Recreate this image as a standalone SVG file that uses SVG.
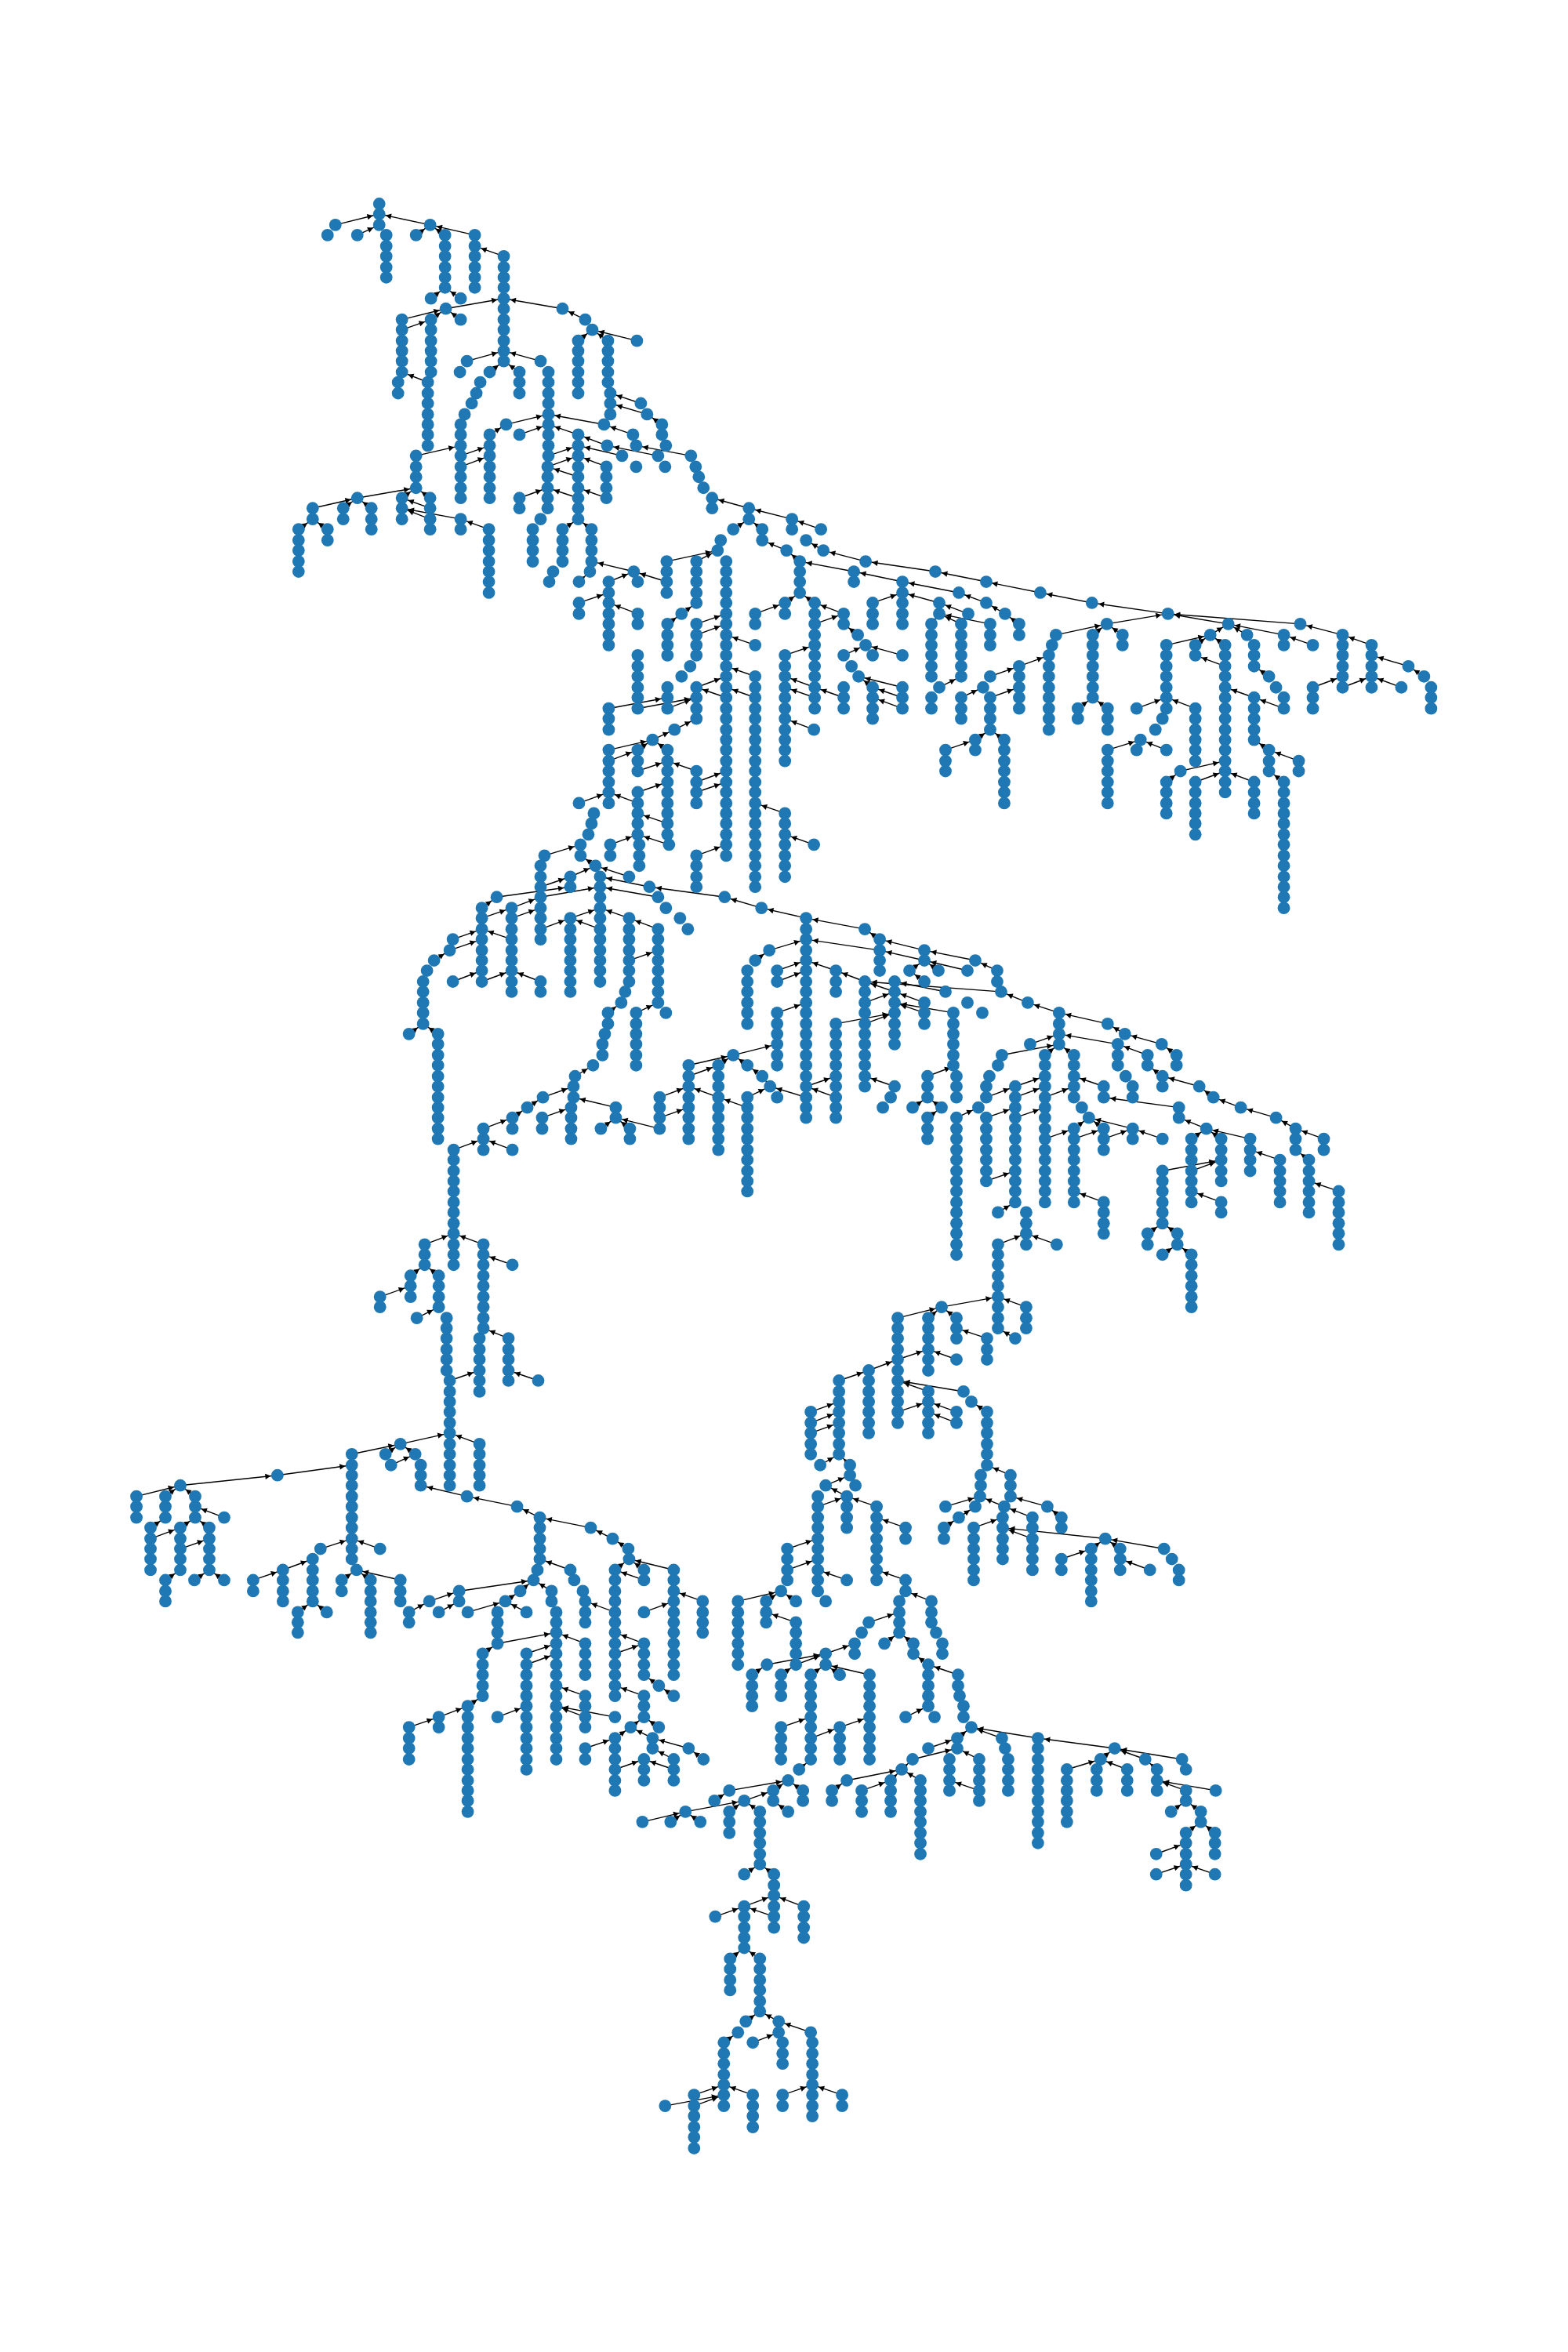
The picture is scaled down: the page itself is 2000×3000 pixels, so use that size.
<svg xmlns="http://www.w3.org/2000/svg" width="2000" height="3000" viewBox="0 0 2000 3000">
<style>
#bg{fill:#fff}
#edges path{stroke:#000;stroke-width:1.4;fill:none;marker-end:url(#a)}
#nodes circle{fill:#1f78b4;r:7.9px}
</style>
<defs><marker id="a" markerUnits="userSpaceOnUse" markerWidth="20" markerHeight="10" orient="auto" overflow="visible"><path d="M-8.5 0L-15.5 -3.7V3.7z" fill="#000"/></marker></defs>
<rect id="bg" width="2000" height="3000"/>
<g id="edges" transform="translate(.2 .5) scale(.999 .998)">
<path d="M777 905L852 891"/><path d="M814 905L889 891"/><path d="M852 905L889 891"/><path d="M1180 1214L1123 1200"/><path d="M1180 1227L1123 1214"/><path d="M1029 1173L972 1160"/>
<path d="M428 287L484 273"/><path d="M456 300L484 287"/><path d="M549 287L484 273"/><path d="M531 300L549 287"/><path d="M568 300L549 287"/><path d="M606 300L549 287"/><path d="M643 327L606 314"/><path d="M550 381L568 367"/><path d="M588 381L568 367"/><path d="M569 394L643 381"/><path d="M718 394L643 381"/><path d="M747 408L718 394"/><path d="M813 435L756 421"/><path d="M738 435L756 421"/><path d="M776 435L756 421"/><path d="M513 408L569 394"/><path d="M550 408L569 394"/><path d="M588 408L569 394"/><path d="M513 421L550 408"/><path d="M546 488L513 475"/><path d="M596 461L643 448"/><path d="M690 461L643 448"/><path d="M625 475L643 461"/><path d="M663 475L643 461"/><path d="M818 515L779 502"/><path d="M826 529L779 515"/><path d="M845 542L826 529"/><path d="M771 542L700 529"/><path d="M808 555L771 542"/><path d="M646 542L700 529"/><path d="M625 555L646 542"/><path d="M663 555L700 542"/><path d="M588 582L625 569"/><path d="M588 596L625 582"/><path d="M531 582L588 569"/><path d="M738 555L700 542"/><path d="M775 569L738 555"/><path d="M794 582L738 569"/><path d="M840 582L775 569"/><path d="M882 582L812 569"/><path d="M700 582L738 569"/><path d="M699 596L738 582"/><path d="M738 609L699 596"/><path d="M774 596L738 582"/><path d="M738 636L699 623"/><path d="M774 636L738 623"/><path d="M663 636L699 623"/><path d="M456 636L531 623"/><path d="M399 649L456 636"/><path d="M438 649L456 636"/><path d="M474 649L456 636"/><path d="M381 676L399 663"/><path d="M418 676L399 663"/><path d="M513 636L531 623"/><path d="M549 636L531 623"/><path d="M549 649L513 636"/><path d="M549 663L513 649"/><path d="M588 663L513 649"/><path d="M624 676L588 663"/><path d="M718 676L738 663"/><path d="M755 676L738 663"/><path d="M739 743L753 730"/><path d="M809 730L755 717"/><path d="M851 717L916 703"/><path d="M851 743L809 730"/><path d="M889 717L916 703"/><path d="M777 743L809 730"/><path d="M739 770L777 757"/><path d="M814 784L777 770"/><path d="M870 784L889 770"/>
<path d="M956 649L909 636"/><path d="M936 676L956 663"/><path d="M973 676L956 663"/><path d="M1011 663L956 649"/><path d="M1048 676L1011 663"/><path d="M1051 703L1029 690"/><path d="M1105 717L1051 703"/><path d="M1004 703L973 690"/><path d="M1021 717L1004 703"/><path d="M1090 730L1021 717"/><path d="M1194 730L1105 717"/><path d="M1259 743L1194 730"/><path d="M1328 757L1258 743"/><path d="M1394 770L1328 757"/><path d="M1491 784L1394 770"/><path d="M1152 743L1090 730"/><path d="M1224 757L1152 743"/><path d="M1259 770L1224 757"/><path d="M1283 784L1259 770"/><path d="M1301 797L1283 784"/><path d="M1199 770L1152 757"/><path d="M1236 784L1199 770"/><path d="M1227 797L1199 784"/><path d="M1264 797L1199 784"/><path d="M1189 797L1199 784"/><path d="M1114 770L1152 757"/><path d="M1040 770L1021 757"/><path d="M1002 770L1021 757"/><path d="M964 784L1002 770"/><path d="M1077 784L1040 770"/><path d="M1040 797L1077 784"/><path d="M1095 811L1077 797"/><path d="M1152 837L1105 824"/><path d="M1077 837L1105 824"/><path d="M1152 878L1096 864"/><path d="M1114 878L1096 864"/><path d="M1152 891L1114 878"/><path d="M1152 905L1114 891"/><path d="M1077 891L1040 878"/><path d="M1002 837L1040 824"/><path d="M1040 878L1002 864"/><path d="M1040 891L1002 878"/><path d="M1039 932L1002 918"/><path d="M964 824L927 811"/><path d="M964 864L927 851"/><path d="M964 891L927 878"/><path d="M889 797L927 784"/><path d="M889 811L927 797"/><path d="M889 878L927 864"/><path d="M927 891L889 878"/><path d="M861 932L889 918"/><path d="M833 945L861 932"/><path d="M814 958L833 945"/><path d="M777 958L833 945"/><path d="M852 958L833 945"/><path d="M814 985L852 972"/><path d="M777 972L814 958"/><path d="M889 985L852 972"/><path d="M889 999L927 985"/><path d="M889 1012L927 999"/><path d="M814 1012L852 999"/><path d="M814 1026L777 1012"/><path d="M739 1026L777 1012"/><path d="M852 1052L814 1039"/><path d="M854 1079L814 1066"/><path d="M779 1079L814 1066"/><path d="M889 1093L927 1079"/><path d="M1002 1039L964 1026"/><path d="M1039 1079L1002 1066"/><path d="M728 1120L760 1106"/><path d="M803 1120L760 1106"/><path d="M760 1106L741 1093"/><path d="M829 1133L766 1120"/><path d="M840 1146L766 1133"/><path d="M972 1160L925 1146"/><path d="M925 1146L829 1133"/><path d="M695 1093L741 1079"/><path d="M690 1133L728 1120"/><path d="M634 1146L728 1133"/><path d="M690 1146L766 1133"/>
<path d="M615 1160L634 1146"/><path d="M615 1173L653 1160"/><path d="M653 1173L690 1160"/><path d="M653 1160L690 1146"/><path d="M653 1200L615 1187"/><path d="M578 1200L615 1187"/><path d="M574 1214L615 1200"/><path d="M554 1227L574 1214"/><path d="M578 1254L615 1240"/><path d="M615 1254L653 1240"/><path d="M690 1254L653 1240"/><path d="M690 1187L728 1173"/><path d="M766 1187L728 1173"/><path d="M728 1173L766 1160"/><path d="M803 1173L766 1160"/><path d="M840 1187L803 1173"/><path d="M803 1227L840 1214"/><path d="M522 1321L540 1308"/><path d="M559 1321L540 1308"/><path d="M812 1294L840 1281"/><path d="M776 1294L793 1281"/><path d="M734 1375L757 1361"/><path d="M693 1402L732 1388"/><path d="M673 1415L693 1402"/><path d="M654 1428L673 1415"/><path d="M617 1442L654 1428"/><path d="M692 1428L729 1415"/><path d="M654 1469L617 1455"/><path d="M579 1469L617 1455"/><path d="M786 1415L732 1402"/><path d="M767 1442L786 1428"/><path d="M804 1442L786 1428"/><path d="M842 1442L786 1428"/><path d="M842 1402L879 1388"/><path d="M842 1428L879 1415"/><path d="M879 1361L936 1348"/><path d="M917 1361L936 1348"/><path d="M954 1361L936 1348"/><path d="M879 1375L917 1361"/><path d="M917 1402L879 1388"/><path d="M954 1415L917 1402"/><path d="M954 1402L983 1388"/><path d="M1029 1402L983 1388"/><path d="M936 1348L992 1334"/><path d="M973 1375L954 1361"/><path d="M983 1388L973 1375"/><path d="M992 1240L1029 1227"/><path d="M992 1254L1029 1240"/><path d="M992 1294L1029 1281"/><path d="M964 1227L982 1214"/><path d="M982 1214L1029 1200"/><path d="M1067 1240L1029 1227"/><path d="M1104 1254L1067 1240"/><path d="M1104 1187L1029 1173"/><path d="M1123 1200L1104 1187"/><path d="M1123 1214L1029 1200"/><path d="M1161 1240L1180 1227"/><path d="M1198 1240L1180 1227"/><path d="M1245 1227L1180 1214"/><path d="M1235 1240L1180 1227"/><path d="M1273 1240L1245 1227"/><path d="M1180 1254L1161 1240"/><path d="M1207 1267L1142 1254"/><path d="M1278 1267L1104 1254"/><path d="M1180 1281L1142 1267"/><path d="M1142 1267L1104 1254"/><path d="M1104 1281L1142 1267"/><path d="M1217 1294L1142 1281"/><path d="M1180 1294L1142 1281"/><path d="M1067 1308L1142 1294"/><path d="M1104 1308L1142 1294"/><path d="M1142 1388L1104 1375"/><path d="M1165 1415L1184 1402"/><path d="M1202 1415L1184 1402"/><path d="M1184 1428L1202 1415"/><path d="M1184 1375L1221 1361"/><path d="M1221 1428L1249 1415"/><path d="M1259 1402L1296 1388"/><path d="M1259 1428L1296 1415"/><path d="M1259 1509L1296 1496"/><path d="M1279 1348L1352 1334"/><path d="M1315 1334L1352 1321"/><path d="M1334 1348L1352 1334"/><path d="M1371 1348L1352 1334"/><path d="M1296 1388L1334 1375"/><path d="M1296 1402L1334 1388"/><path d="M1296 1428L1334 1415"/><path d="M1334 1402L1371 1388"/><path d="M1409 1388L1371 1375"/><path d="M1334 1455L1371 1442"/><path d="M1371 1455L1409 1442"/><path d="M1409 1455L1446 1442"/><path d="M1484 1455L1446 1442"/><path d="M1446 1442L1390 1428"/><path d="M1409 1442L1390 1428"/><path d="M1371 1442L1390 1428"/><path d="M1409 1536L1371 1522"/><path d="M1274 1549L1296 1536"/><path d="M1274 1590L1310 1576"/><path d="M1349 1590L1310 1576"/><path d="M1352 1294L1312 1281"/><path d="M1312 1281L1278 1267"/><path d="M1414 1308L1352 1294"/><path d="M1436 1321L1414 1308"/><path d="M1483 1334L1436 1321"/><path d="M1502 1348L1483 1334"/><path d="M1427 1334L1352 1321"/><path d="M1465 1348L1427 1334"/><path d="M1484 1375L1465 1361"/><path d="M1531 1388L1484 1375"/><path d="M1549 1402L1531 1388"/><path d="M1584 1415L1549 1402"/><path d="M1629 1428L1584 1415"/><path d="M1654 1442L1629 1428"/><path d="M1690 1455L1654 1442"/><path d="M1505 1415L1409 1402"/><path d="M1540 1442L1505 1428"/><path d="M1521 1455L1540 1442"/><path d="M1559 1455L1540 1442"/><path d="M1596 1455L1540 1442"/><path d="M1634 1482L1596 1469"/><path d="M1671 1482L1654 1469"/><path d="M1709 1522L1671 1509"/><path d="M1484 1496L1559 1482"/><path d="M1521 1496L1559 1482"/><path d="M1559 1536L1521 1522"/><path d="M1465 1576L1484 1563"/><path d="M1503 1576L1484 1563"/><path d="M1484 1603L1503 1590"/><path d="M1521 1603L1503 1590"/>
<path d="M1413 797L1491 784"/><path d="M1348 811L1413 797"/><path d="M1395 811L1413 797"/><path d="M1433 811L1413 797"/><path d="M1301 851L1339 837"/><path d="M1264 864L1301 851"/><path d="M1264 891L1301 878"/><path d="M1376 905L1395 891"/><path d="M1414 905L1395 891"/><path d="M1414 958L1456 945"/><path d="M1489 958L1456 945"/><path d="M1451 905L1489 891"/><path d="M1526 905L1489 891"/><path d="M1489 824L1545 811"/><path d="M1526 824L1545 811"/><path d="M1564 824L1545 811"/><path d="M1545 811L1568 797"/><path d="M1592 811L1568 797"/><path d="M1639 811L1568 797"/><path d="M1676 824L1639 811"/><path d="M1564 851L1526 837"/><path d="M1620 864L1601 851"/><path d="M1639 905L1601 891"/><path d="M1601 891L1564 878"/><path d="M1620 958L1601 945"/><path d="M1658 972L1620 958"/><path d="M1639 999L1620 985"/><path d="M1507 985L1564 972"/><path d="M1489 999L1507 985"/><path d="M1526 999L1564 985"/><path d="M1601 999L1564 985"/><path d="M1660 797L1491 784"/><path d="M1568 797L1491 784"/><path d="M1714 811L1660 797"/><path d="M1751 824L1714 811"/><path d="M1798 851L1751 837"/><path d="M1818 864L1798 851"/><path d="M1789 878L1751 864"/><path d="M1714 878L1751 864"/><path d="M1676 878L1714 864"/>
<path d="M1199 878L1227 864"/><path d="M1227 891L1255 878"/><path d="M1207 958L1245 945"/><path d="M1245 945L1264 932"/><path d="M1282 945L1264 932"/><path d="M852 797L870 784"/><path d="M1067 1402L1029 1388"/><path d="M1029 1388L1067 1375"/>
<path d="M230 1898L354 1885"/><path d="M354 1885L449 1872"/><path d="M449 1858L511 1845"/><path d="M511 1845L574 1831"/><path d="M492 1858L511 1845"/><path d="M530 1858L511 1845"/><path d="M499 1872L530 1858"/><path d="M612 1845L574 1831"/><path d="M596 1912L537 1898"/><path d="M660 1925L596 1912"/><path d="M689 1939L660 1925"/><path d="M754 1952L689 1939"/><path d="M782 1966L754 1952"/><path d="M802 1979L782 1966"/><path d="M728 2006L689 1992"/><path d="M785 2006L803 1992"/><path d="M822 2006L803 1992"/><path d="M860 2006L803 1992"/><path d="M822 2019L785 2006"/><path d="M897 2046L860 2033"/><path d="M822 2060L860 2046"/><path d="M785 2060L747 2046"/><path d="M747 2100L710 2086"/><path d="M822 2100L785 2086"/><path d="M785 2113L822 2100"/><path d="M942 2046L997 2033"/><path d="M978 2046L997 2033"/><path d="M1016 2046L997 2033"/><path d="M1016 2073L978 2060"/><path d="M635 2100L710 2086"/><path d="M616 2113L635 2100"/><path d="M672 2113L710 2100"/><path d="M672 2127L710 2113"/><path d="M747 2167L710 2154"/><path d="M747 2194L710 2180"/><path d="M785 2194L710 2180"/><path d="M597 2180L616 2167"/><path d="M560 2194L597 2180"/><path d="M522 2207L560 2194"/><path d="M635 2194L672 2180"/><path d="M822 2167L785 2154"/><path d="M841 2154L822 2140"/><path d="M860 2167L841 2154"/><path d="M747 2234L785 2221"/><path d="M785 2221L805 2207"/><path d="M805 2207L822 2194"/><path d="M841 2207L822 2194"/><path d="M833 2221L805 2207"/><path d="M879 2234L833 2221"/><path d="M898 2248L879 2234"/><path d="M860 2248L833 2234"/><path d="M860 2261L822 2248"/><path d="M785 2261L822 2248"/><path d="M1020 2261L1035 2248"/><path d="M931 2288L1006 2275"/><path d="M912 2301L931 2288"/><path d="M950 2301L987 2288"/><path d="M987 2288L1006 2275"/><path d="M1025 2288L1006 2275"/><path d="M1006 2315L987 2301"/><path d="M875 2315L950 2301"/><path d="M970 2315L950 2301"/><path d="M931 2315L950 2301"/><path d="M820 2328L875 2315"/><path d="M856 2328L875 2315"/><path d="M894 2328L875 2315"/><path d="M950 2395L970 2382"/><path d="M988 2395L970 2382"/><path d="M950 2436L988 2422"/><path d="M913 2449L950 2436"/><path d="M988 2449L950 2436"/><path d="M1025 2436L988 2422"/><path d="M932 2503L950 2489"/><path d="M970 2503L950 2489"/><path d="M952 2583L970 2570"/><path d="M994 2583L970 2570"/><path d="M924 2610L942 2597"/><path d="M1035 2597L994 2583"/><path d="M961 2610L994 2597"/><path d="M886 2677L924 2664"/><path d="M886 2691L924 2677"/><path d="M849 2691L924 2677"/><path d="M961 2677L924 2664"/><path d="M999 2677L1037 2664"/><path d="M1075 2677L1037 2664"/>
<path d="M522 2060L548 2046"/><path d="M548 2046L586 2033"/><path d="M560 2060L586 2046"/><path d="M586 2033L681 2019"/><path d="M597 2060L645 2046"/><path d="M645 2046L664 2033"/><path d="M672 2060L645 2046"/><path d="M664 2033L681 2019"/><path d="M704 2033L681 2019"/><path d="M473 2019L455 2006"/><path d="M436 2019L455 2006"/><path d="M511 2019L455 2006"/><path d="M409 1979L449 1966"/><path d="M485 1979L449 1966"/><path d="M361 2006L399 1992"/><path d="M323 2019L361 2006"/><path d="M380 2060L399 2046"/><path d="M417 2060L399 2046"/><path d="M174 1912L230 1898"/><path d="M211 1912L230 1898"/><path d="M249 1912L230 1898"/><path d="M286 1939L249 1925"/><path d="M192 1952L211 1939"/><path d="M230 1952L249 1939"/><path d="M267 1952L249 1939"/><path d="M192 1966L230 1952"/><path d="M230 1979L267 1966"/><path d="M211 2019L230 2006"/><path d="M248 2019L267 2006"/><path d="M286 2019L267 2006"/>
<path d="M524 1630L542 1616"/><path d="M560 1630L542 1616"/><path d="M485 1657L524 1643"/><path d="M532 1684L560 1670"/><path d="M542 1590L579 1576"/><path d="M617 1590L579 1576"/><path d="M654 1616L617 1603"/><path d="M649 1710L617 1697"/><path d="M574 1764L612 1751"/><path d="M687 1764L649 1751"/>
<path d="M1146 1684L1202 1670"/><path d="M1185 1684L1202 1670"/><path d="M1221 1684L1202 1670"/><path d="M1202 1670L1274 1657"/><path d="M1310 1670L1274 1657"/><path d="M1296 1710L1274 1697"/><path d="M1260 1710L1221 1697"/><path d="M1221 1737L1185 1724"/><path d="M1146 1737L1185 1724"/><path d="M1109 1751L1146 1737"/><path d="M1071 1764L1109 1751"/><path d="M1035 1804L1071 1791"/><path d="M1035 1818L1071 1804"/><path d="M1035 1831L1071 1818"/><path d="M1047 1872L1071 1858"/><path d="M1085 1872L1071 1858"/><path d="M1054 1898L1085 1885"/><path d="M1081 1912L1054 1898"/><path d="M1044 1925L1081 1912"/><path d="M1119 1925L1081 1912"/><path d="M1156 1952L1119 1939"/><path d="M1230 1778L1146 1764"/><path d="M1185 1778L1146 1764"/><path d="M1260 1804L1240 1791"/><path d="M1146 1804L1185 1791"/><path d="M1221 1804L1185 1791"/><path d="M1221 1818L1185 1804"/><path d="M1290 1885L1260 1872"/><path d="M1207 1925L1251 1912"/><path d="M1224 1939L1245 1925"/><path d="M1205 1952L1224 1939"/><path d="M1282 1925L1251 1912"/><path d="M1243 1952L1280 1939"/><path d="M1318 1939L1282 1925"/><path d="M1337 1925L1290 1912"/><path d="M1355 1939L1337 1925"/><path d="M1318 1966L1280 1952"/><path d="M1411 1966L1280 1952"/><path d="M1393 1979L1411 1966"/><path d="M1430 1979L1411 1966"/><path d="M1486 1979L1411 1966"/><path d="M1355 1992L1393 1979"/><path d="M1468 2006L1430 1992"/><path d="M1156 2019L1119 2006"/><path d="M1081 2019L1044 2006"/><path d="M1005 1979L1044 1966"/><path d="M1005 2006L1044 1992"/><path d="M1189 2046L1156 2033"/><path d="M1109 2073L1148 2060"/><path d="M1129 2100L1148 2086"/><path d="M1166 2100L1148 2086"/><path d="M1054 2113L1091 2100"/><path d="M979 2127L1054 2113"/><path d="M1016 2127L1054 2113"/><path d="M1072 2140L1054 2127"/><path d="M1035 2140L1054 2127"/><path d="M1110 2140L1054 2127"/><path d="M960 2140L979 2127"/><path d="M997 2140L1016 2127"/><path d="M1185 2127L1166 2113"/><path d="M1223 2140L1185 2127"/><path d="M1156 2194L1185 2180"/><path d="M997 2207L1035 2194"/><path d="M1072 2207L1110 2194"/><path d="M1035 2221L1072 2207"/>
<path d="M1222 2221L1240 2207"/><path d="M1279 2221L1240 2207"/><path d="M1325 2221L1240 2207"/><path d="M1423 2234L1325 2221"/><path d="M1405 2248L1423 2234"/><path d="M1462 2248L1423 2234"/><path d="M1509 2248L1423 2234"/><path d="M1362 2261L1405 2248"/><path d="M1439 2261L1405 2248"/><path d="M1185 2234L1222 2221"/><path d="M1165 2248L1222 2234"/><path d="M1151 2261L1165 2248"/><path d="M1175 2275L1151 2261"/><path d="M1137 2275L1151 2261"/><path d="M1081 2275L1151 2261"/><path d="M1062 2288L1081 2275"/><path d="M1100 2288L1137 2275"/><path d="M1250 2248L1222 2234"/><path d="M1250 2288L1212 2275"/><path d="M1477 2261L1462 2248"/><path d="M1514 2288L1477 2275"/><path d="M1552 2288L1477 2275"/><path d="M1495 2315L1514 2301"/><path d="M1533 2315L1514 2301"/><path d="M1514 2342L1533 2328"/><path d="M1551 2342L1533 2328"/><path d="M1476 2369L1514 2355"/><path d="M1476 2395L1514 2382"/><path d="M1551 2395L1514 2382"/>
</g>
<g id="nodes" transform="translate(.2 .5) scale(.999 .998)">
<g id="n484_0"><circle cx="484" cy="260"/></g><g id="n484_1"><circle cx="484" cy="273"/></g><g id="n484_2"><circle cx="484" cy="287"/></g><g id="n428_2"><circle cx="428" cy="287"/></g><g id="n418_3"><circle cx="418" cy="300"/></g><g id="n456_3"><circle cx="456" cy="300"/></g><g id="n493_3"><circle cx="493" cy="300"/></g><g id="n493_4"><circle cx="493" cy="314"/></g><g id="n493_5"><circle cx="493" cy="327"/></g><g id="n493_6"><circle cx="493" cy="341"/></g><g id="n493_7"><circle cx="493" cy="354"/></g><g id="n549_2"><circle cx="549" cy="287"/></g><g id="n531_3"><circle cx="531" cy="300"/></g><g id="n568_3"><circle cx="568" cy="300"/></g><g id="n568_4"><circle cx="568" cy="314"/></g><g id="n568_5"><circle cx="568" cy="327"/></g><g id="n568_6"><circle cx="568" cy="341"/></g><g id="n568_7"><circle cx="568" cy="354"/></g><g id="n568_8"><circle cx="568" cy="367"/></g><g id="n550_9"><circle cx="550" cy="381"/></g><g id="n588_9"><circle cx="588" cy="381"/></g><g id="n606_3"><circle cx="606" cy="300"/></g><g id="n606_4"><circle cx="606" cy="314"/></g><g id="n606_5"><circle cx="606" cy="327"/></g><g id="n606_6"><circle cx="606" cy="341"/></g><g id="n606_7"><circle cx="606" cy="354"/></g><g id="n606_8"><circle cx="606" cy="367"/></g>
<g id="n643_5"><circle cx="643" cy="327"/></g><g id="n643_6"><circle cx="643" cy="341"/></g><g id="n643_7"><circle cx="643" cy="354"/></g><g id="n643_8"><circle cx="643" cy="367"/></g><g id="n643_9"><circle cx="643" cy="381"/></g><g id="n643_10"><circle cx="643" cy="394"/></g><g id="n643_11"><circle cx="643" cy="408"/></g><g id="n643_12"><circle cx="643" cy="421"/></g><g id="n643_13"><circle cx="643" cy="435"/></g><g id="n643_14"><circle cx="643" cy="448"/></g><g id="n643_15"><circle cx="643" cy="461"/></g><g id="n569_10"><circle cx="569" cy="394"/></g><g id="n588_11"><circle cx="588" cy="408"/></g>
<g id="n513_11"><circle cx="513" cy="408"/></g><g id="n513_12"><circle cx="513" cy="421"/></g><g id="n513_13"><circle cx="513" cy="435"/></g><g id="n513_14"><circle cx="513" cy="448"/></g><g id="n513_15"><circle cx="513" cy="461"/></g><g id="n513_16"><circle cx="513" cy="475"/></g><g id="n508_17"><circle cx="508" cy="488"/></g><g id="n508_18"><circle cx="508" cy="502"/></g>
<g id="n550_11"><circle cx="550" cy="408"/></g><g id="n550_12"><circle cx="550" cy="421"/></g><g id="n550_13"><circle cx="550" cy="435"/></g><g id="n550_14"><circle cx="550" cy="448"/></g><g id="n550_15"><circle cx="550" cy="461"/></g><g id="n550_16"><circle cx="550" cy="475"/></g><g id="n546_17"><circle cx="546" cy="488"/></g><g id="n546_18"><circle cx="546" cy="502"/></g><g id="n546_19"><circle cx="546" cy="515"/></g><g id="n546_20"><circle cx="546" cy="529"/></g><g id="n546_21"><circle cx="546" cy="542"/></g><g id="n546_22"><circle cx="546" cy="555"/></g><g id="n546_23"><circle cx="546" cy="569"/></g>
<g id="n718_10"><circle cx="718" cy="394"/></g><g id="n747_11"><circle cx="747" cy="408"/></g><g id="n756_12"><circle cx="756" cy="421"/></g><g id="n813_13"><circle cx="813" cy="435"/></g>
<g id="n738_13"><circle cx="738" cy="435"/></g><g id="n738_14"><circle cx="738" cy="448"/></g><g id="n738_15"><circle cx="738" cy="461"/></g><g id="n738_16"><circle cx="738" cy="475"/></g><g id="n738_17"><circle cx="738" cy="488"/></g><g id="n738_18"><circle cx="738" cy="502"/></g>
<g id="n776_13"><circle cx="776" cy="435"/></g><g id="n776_14"><circle cx="776" cy="448"/></g><g id="n776_15"><circle cx="776" cy="461"/></g><g id="n776_16"><circle cx="776" cy="475"/></g><g id="n776_17"><circle cx="776" cy="488"/></g><g id="n779_18"><circle cx="779" cy="502"/></g><g id="n779_19"><circle cx="779" cy="515"/></g><g id="n779_20"><circle cx="779" cy="529"/></g>
<g id="n596_15"><circle cx="596" cy="461"/></g><g id="n587_16"><circle cx="587" cy="475"/></g><g id="n690_15"><circle cx="690" cy="461"/></g><g id="n625_16"><circle cx="625" cy="475"/></g><g id="n613_17"><circle cx="613" cy="488"/></g><g id="n608_18"><circle cx="608" cy="502"/></g><g id="n602_19"><circle cx="602" cy="515"/></g><g id="n593_20"><circle cx="593" cy="529"/></g>
<g id="n588_21"><circle cx="588" cy="542"/></g><g id="n588_22"><circle cx="588" cy="555"/></g><g id="n588_23"><circle cx="588" cy="569"/></g><g id="n588_24"><circle cx="588" cy="582"/></g><g id="n588_25"><circle cx="588" cy="596"/></g><g id="n588_26"><circle cx="588" cy="609"/></g><g id="n588_27"><circle cx="588" cy="623"/></g><g id="n588_28"><circle cx="588" cy="636"/></g>
<g id="n663_16"><circle cx="663" cy="475"/></g><g id="n663_17"><circle cx="663" cy="488"/></g><g id="n663_18"><circle cx="663" cy="502"/></g>
<g id="n700_16"><circle cx="700" cy="475"/></g><g id="n700_17"><circle cx="700" cy="488"/></g><g id="n700_18"><circle cx="700" cy="502"/></g><g id="n700_19"><circle cx="700" cy="515"/></g><g id="n700_20"><circle cx="700" cy="529"/></g><g id="n700_21"><circle cx="700" cy="542"/></g><g id="n700_22"><circle cx="700" cy="555"/></g><g id="n700_23"><circle cx="700" cy="569"/></g><g id="n700_24"><circle cx="700" cy="582"/></g><g id="n699_25"><circle cx="699" cy="596"/></g><g id="n699_26"><circle cx="699" cy="609"/></g><g id="n699_27"><circle cx="699" cy="623"/></g><g id="n699_28"><circle cx="699" cy="636"/></g><g id="n699_29"><circle cx="699" cy="649"/></g>
<g id="n818_19"><circle cx="818" cy="515"/></g><g id="n826_20"><circle cx="826" cy="529"/></g><g id="n845_21"><circle cx="845" cy="542"/></g><g id="n845_22"><circle cx="845" cy="555"/></g><g id="n850_23"><circle cx="850" cy="569"/></g><g id="n771_21"><circle cx="771" cy="542"/></g><g id="n808_22"><circle cx="808" cy="555"/></g><g id="n812_23"><circle cx="812" cy="569"/></g><g id="n646_21"><circle cx="646" cy="542"/></g>
<g id="n625_22"><circle cx="625" cy="555"/></g><g id="n625_23"><circle cx="625" cy="569"/></g><g id="n625_24"><circle cx="625" cy="582"/></g><g id="n625_25"><circle cx="625" cy="596"/></g><g id="n625_26"><circle cx="625" cy="609"/></g><g id="n625_27"><circle cx="625" cy="623"/></g><g id="n625_28"><circle cx="625" cy="636"/></g><g id="n663_22"><circle cx="663" cy="555"/></g>
<g id="n738_22"><circle cx="738" cy="555"/></g><g id="n738_23"><circle cx="738" cy="569"/></g><g id="n738_24"><circle cx="738" cy="582"/></g><g id="n738_25"><circle cx="738" cy="596"/></g><g id="n738_26"><circle cx="738" cy="609"/></g><g id="n738_27"><circle cx="738" cy="623"/></g><g id="n738_28"><circle cx="738" cy="636"/></g><g id="n738_29"><circle cx="738" cy="649"/></g><g id="n738_30"><circle cx="738" cy="663"/></g>
<g id="n775_23"><circle cx="775" cy="569"/></g><g id="n794_24"><circle cx="794" cy="582"/></g><g id="n812_25"><circle cx="812" cy="596"/></g><g id="n840_24"><circle cx="840" cy="582"/></g><g id="n849_25"><circle cx="849" cy="596"/></g><g id="n882_24"><circle cx="882" cy="582"/></g><g id="n888_25"><circle cx="888" cy="596"/></g><g id="n892_26"><circle cx="892" cy="609"/></g><g id="n898_27"><circle cx="898" cy="623"/></g><g id="n909_28"><circle cx="909" cy="636"/></g><g id="n909_29"><circle cx="909" cy="649"/></g>
<g id="n774_25"><circle cx="774" cy="596"/></g><g id="n774_26"><circle cx="774" cy="609"/></g><g id="n774_27"><circle cx="774" cy="623"/></g><g id="n774_28"><circle cx="774" cy="636"/></g><g id="n531_24"><circle cx="531" cy="582"/></g><g id="n531_25"><circle cx="531" cy="596"/></g><g id="n531_26"><circle cx="531" cy="609"/></g><g id="n531_27"><circle cx="531" cy="623"/></g><g id="n456_28"><circle cx="456" cy="636"/></g>
<g id="n399_29"><circle cx="399" cy="649"/></g><g id="n399_30"><circle cx="399" cy="663"/></g><g id="n438_29"><circle cx="438" cy="649"/></g><g id="n438_30"><circle cx="438" cy="663"/></g><g id="n474_29"><circle cx="474" cy="649"/></g><g id="n474_30"><circle cx="474" cy="663"/></g><g id="n474_31"><circle cx="474" cy="676"/></g>
<g id="n513_28"><circle cx="513" cy="636"/></g><g id="n513_29"><circle cx="513" cy="649"/></g><g id="n513_30"><circle cx="513" cy="663"/></g><g id="n549_28"><circle cx="549" cy="636"/></g><g id="n549_29"><circle cx="549" cy="649"/></g><g id="n549_30"><circle cx="549" cy="663"/></g><g id="n549_31"><circle cx="549" cy="676"/></g><g id="n588_30"><circle cx="588" cy="663"/></g><g id="n588_31"><circle cx="588" cy="676"/></g>
<g id="n624_31"><circle cx="624" cy="676"/></g><g id="n624_32"><circle cx="624" cy="690"/></g><g id="n624_33"><circle cx="624" cy="703"/></g><g id="n624_34"><circle cx="624" cy="717"/></g><g id="n624_35"><circle cx="624" cy="730"/></g><g id="n624_36"><circle cx="624" cy="743"/></g><g id="n624_37"><circle cx="624" cy="757"/></g>
<g id="n381_31"><circle cx="381" cy="676"/></g><g id="n381_32"><circle cx="381" cy="690"/></g><g id="n381_33"><circle cx="381" cy="703"/></g><g id="n381_34"><circle cx="381" cy="717"/></g><g id="n381_35"><circle cx="381" cy="730"/></g><g id="n418_31"><circle cx="418" cy="676"/></g><g id="n418_32"><circle cx="418" cy="690"/></g><g id="n663_28"><circle cx="663" cy="636"/></g><g id="n663_29"><circle cx="663" cy="649"/></g><g id="n690_30"><circle cx="690" cy="663"/></g>
<g id="n680_31"><circle cx="680" cy="676"/></g><g id="n680_32"><circle cx="680" cy="690"/></g><g id="n680_33"><circle cx="680" cy="703"/></g><g id="n680_34"><circle cx="680" cy="717"/></g><g id="n718_31"><circle cx="718" cy="676"/></g><g id="n718_32"><circle cx="718" cy="690"/></g><g id="n718_33"><circle cx="718" cy="703"/></g><g id="n718_34"><circle cx="718" cy="717"/></g><g id="n706_35"><circle cx="706" cy="730"/></g><g id="n701_36"><circle cx="701" cy="743"/></g>
<g id="n755_31"><circle cx="755" cy="676"/></g><g id="n755_32"><circle cx="755" cy="690"/></g><g id="n755_33"><circle cx="755" cy="703"/></g><g id="n755_34"><circle cx="755" cy="717"/></g><g id="n753_35"><circle cx="753" cy="730"/></g><g id="n739_36"><circle cx="739" cy="743"/></g><g id="n809_35"><circle cx="809" cy="730"/></g><g id="n814_36"><circle cx="814" cy="743"/></g>
<g id="n851_34"><circle cx="851" cy="717"/></g><g id="n851_35"><circle cx="851" cy="730"/></g><g id="n851_36"><circle cx="851" cy="743"/></g><g id="n851_37"><circle cx="851" cy="757"/></g><g id="n889_34"><circle cx="889" cy="717"/></g><g id="n889_35"><circle cx="889" cy="730"/></g><g id="n889_36"><circle cx="889" cy="743"/></g><g id="n889_37"><circle cx="889" cy="757"/></g><g id="n889_38"><circle cx="889" cy="770"/></g><g id="n870_39"><circle cx="870" cy="784"/></g>
<g id="n936_31"><circle cx="936" cy="676"/></g><g id="n920_32"><circle cx="920" cy="690"/></g><g id="n916_33"><circle cx="916" cy="703"/></g>
<g id="n927_34"><circle cx="927" cy="717"/></g><g id="n927_35"><circle cx="927" cy="730"/></g><g id="n927_36"><circle cx="927" cy="743"/></g><g id="n927_37"><circle cx="927" cy="757"/></g><g id="n927_38"><circle cx="927" cy="770"/></g><g id="n927_39"><circle cx="927" cy="784"/></g><g id="n927_40"><circle cx="927" cy="797"/></g><g id="n927_41"><circle cx="927" cy="811"/></g><g id="n927_42"><circle cx="927" cy="824"/></g><g id="n927_43"><circle cx="927" cy="837"/></g><g id="n927_44"><circle cx="927" cy="851"/></g><g id="n927_45"><circle cx="927" cy="864"/></g><g id="n927_46"><circle cx="927" cy="878"/></g><g id="n927_47"><circle cx="927" cy="891"/></g><g id="n927_48"><circle cx="927" cy="905"/></g><g id="n927_49"><circle cx="927" cy="918"/></g><g id="n927_50"><circle cx="927" cy="932"/></g><g id="n927_51"><circle cx="927" cy="945"/></g><g id="n927_52"><circle cx="927" cy="958"/></g><g id="n927_53"><circle cx="927" cy="972"/></g><g id="n927_54"><circle cx="927" cy="985"/></g><g id="n927_55"><circle cx="927" cy="999"/></g><g id="n927_56"><circle cx="927" cy="1012"/></g><g id="n927_57"><circle cx="927" cy="1026"/></g><g id="n927_58"><circle cx="927" cy="1039"/></g><g id="n927_59"><circle cx="927" cy="1052"/></g><g id="n927_60"><circle cx="927" cy="1066"/></g><g id="n927_61"><circle cx="927" cy="1079"/></g><g id="n927_62"><circle cx="927" cy="1093"/></g>
<g id="n956_29"><circle cx="956" cy="649"/></g><g id="n956_30"><circle cx="956" cy="663"/></g><g id="n1011_30"><circle cx="1011" cy="663"/></g><g id="n1011_31"><circle cx="1011" cy="676"/></g><g id="n1048_31"><circle cx="1048" cy="676"/></g><g id="n973_31"><circle cx="973" cy="676"/></g><g id="n973_32"><circle cx="973" cy="690"/></g><g id="n1029_32"><circle cx="1029" cy="690"/></g><g id="n1051_33"><circle cx="1051" cy="703"/></g><g id="n1105_34"><circle cx="1105" cy="717"/></g><g id="n1004_33"><circle cx="1004" cy="703"/></g>
<g id="n1021_34"><circle cx="1021" cy="717"/></g><g id="n1021_35"><circle cx="1021" cy="730"/></g><g id="n1021_36"><circle cx="1021" cy="743"/></g><g id="n1021_37"><circle cx="1021" cy="757"/></g><g id="n1090_35"><circle cx="1090" cy="730"/></g><g id="n1090_36"><circle cx="1090" cy="743"/></g><g id="n1194_35"><circle cx="1194" cy="730"/></g><g id="n1259_36"><circle cx="1259" cy="743"/></g>
<g id="n1152_36"><circle cx="1152" cy="743"/></g><g id="n1152_37"><circle cx="1152" cy="757"/></g><g id="n1152_38"><circle cx="1152" cy="770"/></g><g id="n1152_39"><circle cx="1152" cy="784"/></g><g id="n1152_40"><circle cx="1152" cy="797"/></g><g id="n1224_37"><circle cx="1224" cy="757"/></g><g id="n1259_38"><circle cx="1259" cy="770"/></g><g id="n1283_39"><circle cx="1283" cy="784"/></g><g id="n1301_40"><circle cx="1301" cy="797"/></g><g id="n1301_41"><circle cx="1301" cy="811"/></g><g id="n1199_38"><circle cx="1199" cy="770"/></g><g id="n1199_39"><circle cx="1199" cy="784"/></g><g id="n1236_39"><circle cx="1236" cy="784"/></g>
<g id="n1189_40"><circle cx="1189" cy="797"/></g><g id="n1189_41"><circle cx="1189" cy="811"/></g><g id="n1189_42"><circle cx="1189" cy="824"/></g><g id="n1189_43"><circle cx="1189" cy="837"/></g><g id="n1189_44"><circle cx="1189" cy="851"/></g><g id="n1189_45"><circle cx="1189" cy="864"/></g>
<g id="n1227_40"><circle cx="1227" cy="797"/></g><g id="n1227_41"><circle cx="1227" cy="811"/></g><g id="n1227_42"><circle cx="1227" cy="824"/></g><g id="n1227_43"><circle cx="1227" cy="837"/></g><g id="n1227_44"><circle cx="1227" cy="851"/></g><g id="n1227_45"><circle cx="1227" cy="864"/></g>
<g id="n1264_40"><circle cx="1264" cy="797"/></g><g id="n1264_41"><circle cx="1264" cy="811"/></g><g id="n1264_42"><circle cx="1264" cy="824"/></g><g id="n1114_38"><circle cx="1114" cy="770"/></g><g id="n1114_39"><circle cx="1114" cy="784"/></g><g id="n1114_40"><circle cx="1114" cy="797"/></g>
<g id="n1040_38"><circle cx="1040" cy="770"/></g><g id="n1040_39"><circle cx="1040" cy="784"/></g><g id="n1040_40"><circle cx="1040" cy="797"/></g><g id="n1040_41"><circle cx="1040" cy="811"/></g><g id="n1040_42"><circle cx="1040" cy="824"/></g><g id="n1040_43"><circle cx="1040" cy="837"/></g><g id="n1040_44"><circle cx="1040" cy="851"/></g><g id="n1040_45"><circle cx="1040" cy="864"/></g><g id="n1040_46"><circle cx="1040" cy="878"/></g><g id="n1040_47"><circle cx="1040" cy="891"/></g><g id="n1040_48"><circle cx="1040" cy="905"/></g>
<g id="n1002_38"><circle cx="1002" cy="770"/></g><g id="n1002_39"><circle cx="1002" cy="784"/></g><g id="n964_39"><circle cx="964" cy="784"/></g><g id="n964_40"><circle cx="964" cy="797"/></g><g id="n1077_39"><circle cx="1077" cy="784"/></g><g id="n1077_40"><circle cx="1077" cy="797"/></g><g id="n1095_41"><circle cx="1095" cy="811"/></g><g id="n1105_42"><circle cx="1105" cy="824"/></g><g id="n1114_43"><circle cx="1114" cy="837"/></g><g id="n1152_43"><circle cx="1152" cy="837"/></g><g id="n1077_43"><circle cx="1077" cy="837"/></g><g id="n1087_44"><circle cx="1087" cy="851"/></g><g id="n1096_45"><circle cx="1096" cy="864"/></g><g id="n964_42"><circle cx="964" cy="824"/></g>
<g id="n852_40"><circle cx="852" cy="797"/></g><g id="n852_41"><circle cx="852" cy="811"/></g><g id="n852_42"><circle cx="852" cy="824"/></g><g id="n852_43"><circle cx="852" cy="837"/></g>
<g id="n777_36"><circle cx="777" cy="743"/></g><g id="n777_37"><circle cx="777" cy="757"/></g><g id="n777_38"><circle cx="777" cy="770"/></g><g id="n777_39"><circle cx="777" cy="784"/></g><g id="n777_40"><circle cx="777" cy="797"/></g><g id="n777_41"><circle cx="777" cy="811"/></g><g id="n777_42"><circle cx="777" cy="824"/></g><g id="n739_38"><circle cx="739" cy="770"/></g><g id="n739_39"><circle cx="739" cy="784"/></g><g id="n814_39"><circle cx="814" cy="784"/></g><g id="n814_40"><circle cx="814" cy="797"/></g>
<g id="n889_40"><circle cx="889" cy="797"/></g><g id="n889_41"><circle cx="889" cy="811"/></g><g id="n889_42"><circle cx="889" cy="824"/></g><g id="n889_43"><circle cx="889" cy="837"/></g><g id="n881_44"><circle cx="881" cy="851"/></g><g id="n870_45"><circle cx="870" cy="864"/></g>
<g id="n814_43"><circle cx="814" cy="837"/></g><g id="n814_44"><circle cx="814" cy="851"/></g><g id="n814_45"><circle cx="814" cy="864"/></g><g id="n814_46"><circle cx="814" cy="878"/></g><g id="n814_47"><circle cx="814" cy="891"/></g><g id="n814_48"><circle cx="814" cy="905"/></g><g id="n852_46"><circle cx="852" cy="878"/></g><g id="n852_47"><circle cx="852" cy="891"/></g><g id="n852_48"><circle cx="852" cy="905"/></g><g id="n889_46"><circle cx="889" cy="878"/></g><g id="n889_47"><circle cx="889" cy="891"/></g><g id="n889_48"><circle cx="889" cy="905"/></g><g id="n889_49"><circle cx="889" cy="918"/></g><g id="n861_50"><circle cx="861" cy="932"/></g><g id="n833_51"><circle cx="833" cy="945"/></g><g id="n777_48"><circle cx="777" cy="905"/></g><g id="n777_49"><circle cx="777" cy="918"/></g><g id="n777_50"><circle cx="777" cy="932"/></g>
<g id="n964_45"><circle cx="964" cy="864"/></g><g id="n964_46"><circle cx="964" cy="878"/></g><g id="n964_47"><circle cx="964" cy="891"/></g><g id="n964_48"><circle cx="964" cy="905"/></g><g id="n964_49"><circle cx="964" cy="918"/></g><g id="n964_50"><circle cx="964" cy="932"/></g><g id="n964_51"><circle cx="964" cy="945"/></g><g id="n964_52"><circle cx="964" cy="958"/></g><g id="n964_53"><circle cx="964" cy="972"/></g><g id="n964_54"><circle cx="964" cy="985"/></g><g id="n964_55"><circle cx="964" cy="999"/></g><g id="n964_56"><circle cx="964" cy="1012"/></g><g id="n964_57"><circle cx="964" cy="1026"/></g><g id="n964_58"><circle cx="964" cy="1039"/></g><g id="n964_59"><circle cx="964" cy="1052"/></g><g id="n964_60"><circle cx="964" cy="1066"/></g><g id="n964_61"><circle cx="964" cy="1079"/></g><g id="n964_62"><circle cx="964" cy="1093"/></g><g id="n964_63"><circle cx="964" cy="1106"/></g><g id="n964_64"><circle cx="964" cy="1120"/></g><g id="n964_65"><circle cx="964" cy="1133"/></g>
<g id="n1002_43"><circle cx="1002" cy="837"/></g><g id="n1002_44"><circle cx="1002" cy="851"/></g><g id="n1002_45"><circle cx="1002" cy="864"/></g><g id="n1002_46"><circle cx="1002" cy="878"/></g><g id="n1002_47"><circle cx="1002" cy="891"/></g><g id="n1002_48"><circle cx="1002" cy="905"/></g><g id="n1002_49"><circle cx="1002" cy="918"/></g><g id="n1002_50"><circle cx="1002" cy="932"/></g><g id="n1002_51"><circle cx="1002" cy="945"/></g><g id="n1002_52"><circle cx="1002" cy="958"/></g><g id="n1002_53"><circle cx="1002" cy="972"/></g><g id="n1039_50"><circle cx="1039" cy="932"/></g>
<g id="n1077_46"><circle cx="1077" cy="878"/></g><g id="n1077_47"><circle cx="1077" cy="891"/></g><g id="n1077_48"><circle cx="1077" cy="905"/></g><g id="n1114_46"><circle cx="1114" cy="878"/></g><g id="n1114_47"><circle cx="1114" cy="891"/></g><g id="n1114_48"><circle cx="1114" cy="905"/></g><g id="n1114_49"><circle cx="1114" cy="918"/></g><g id="n1152_46"><circle cx="1152" cy="878"/></g><g id="n1152_47"><circle cx="1152" cy="891"/></g><g id="n1152_48"><circle cx="1152" cy="905"/></g><g id="n1189_47"><circle cx="1189" cy="891"/></g><g id="n1189_48"><circle cx="1189" cy="905"/></g><g id="n1199_46"><circle cx="1199" cy="878"/></g><g id="n1227_47"><circle cx="1227" cy="891"/></g><g id="n1227_48"><circle cx="1227" cy="905"/></g><g id="n1227_49"><circle cx="1227" cy="918"/></g><g id="n1255_46"><circle cx="1255" cy="878"/></g><g id="n1264_45"><circle cx="1264" cy="864"/></g><g id="n1264_47"><circle cx="1264" cy="891"/></g><g id="n1264_48"><circle cx="1264" cy="905"/></g><g id="n1264_49"><circle cx="1264" cy="918"/></g><g id="n1264_50"><circle cx="1264" cy="932"/></g>
<g id="n1245_51"><circle cx="1245" cy="945"/></g><g id="n1245_52"><circle cx="1245" cy="958"/></g><g id="n1207_52"><circle cx="1207" cy="958"/></g><g id="n1207_53"><circle cx="1207" cy="972"/></g><g id="n1207_54"><circle cx="1207" cy="985"/></g><g id="n1282_51"><circle cx="1282" cy="945"/></g><g id="n1282_52"><circle cx="1282" cy="958"/></g><g id="n1282_53"><circle cx="1282" cy="972"/></g><g id="n1282_54"><circle cx="1282" cy="985"/></g><g id="n1282_55"><circle cx="1282" cy="999"/></g><g id="n1282_56"><circle cx="1282" cy="1012"/></g><g id="n1282_57"><circle cx="1282" cy="1026"/></g>
<g id="n777_52"><circle cx="777" cy="958"/></g><g id="n777_53"><circle cx="777" cy="972"/></g><g id="n777_54"><circle cx="777" cy="985"/></g><g id="n777_55"><circle cx="777" cy="999"/></g><g id="n777_56"><circle cx="777" cy="1012"/></g><g id="n777_57"><circle cx="777" cy="1026"/></g><g id="n758_58"><circle cx="758" cy="1039"/></g><g id="n755_59"><circle cx="755" cy="1052"/></g><g id="n751_60"><circle cx="751" cy="1066"/></g><g id="n741_61"><circle cx="741" cy="1079"/></g><g id="n741_62"><circle cx="741" cy="1093"/></g><g id="n739_57"><circle cx="739" cy="1026"/></g>
<g id="n814_52"><circle cx="814" cy="958"/></g><g id="n814_53"><circle cx="814" cy="972"/></g><g id="n814_54"><circle cx="814" cy="985"/></g><g id="n852_52"><circle cx="852" cy="958"/></g><g id="n852_53"><circle cx="852" cy="972"/></g><g id="n852_54"><circle cx="852" cy="985"/></g><g id="n852_55"><circle cx="852" cy="999"/></g><g id="n852_56"><circle cx="852" cy="1012"/></g><g id="n852_57"><circle cx="852" cy="1026"/></g><g id="n852_58"><circle cx="852" cy="1039"/></g><g id="n852_59"><circle cx="852" cy="1052"/></g><g id="n852_60"><circle cx="852" cy="1066"/></g><g id="n854_61"><circle cx="854" cy="1079"/></g>
<g id="n889_54"><circle cx="889" cy="985"/></g><g id="n889_55"><circle cx="889" cy="999"/></g><g id="n889_56"><circle cx="889" cy="1012"/></g><g id="n889_57"><circle cx="889" cy="1026"/></g><g id="n814_56"><circle cx="814" cy="1012"/></g><g id="n814_57"><circle cx="814" cy="1026"/></g><g id="n814_58"><circle cx="814" cy="1039"/></g><g id="n814_59"><circle cx="814" cy="1052"/></g><g id="n814_60"><circle cx="814" cy="1066"/></g><g id="n816_61"><circle cx="816" cy="1079"/></g><g id="n816_62"><circle cx="816" cy="1093"/></g><g id="n816_63"><circle cx="816" cy="1106"/></g><g id="n779_61"><circle cx="779" cy="1079"/></g><g id="n779_62"><circle cx="779" cy="1093"/></g><g id="n889_62"><circle cx="889" cy="1093"/></g><g id="n889_63"><circle cx="889" cy="1106"/></g><g id="n889_64"><circle cx="889" cy="1120"/></g><g id="n889_65"><circle cx="889" cy="1133"/></g>
<g id="n1002_58"><circle cx="1002" cy="1039"/></g><g id="n1002_59"><circle cx="1002" cy="1052"/></g><g id="n1002_60"><circle cx="1002" cy="1066"/></g><g id="n1002_61"><circle cx="1002" cy="1079"/></g><g id="n1002_62"><circle cx="1002" cy="1093"/></g><g id="n1002_63"><circle cx="1002" cy="1106"/></g><g id="n1002_64"><circle cx="1002" cy="1120"/></g><g id="n1039_61"><circle cx="1039" cy="1079"/></g>
<g id="n760_63"><circle cx="760" cy="1106"/></g><g id="n766_64"><circle cx="766" cy="1120"/></g><g id="n766_65"><circle cx="766" cy="1133"/></g><g id="n766_66"><circle cx="766" cy="1146"/></g><g id="n766_67"><circle cx="766" cy="1160"/></g><g id="n766_68"><circle cx="766" cy="1173"/></g><g id="n766_69"><circle cx="766" cy="1187"/></g><g id="n766_70"><circle cx="766" cy="1200"/></g><g id="n766_71"><circle cx="766" cy="1214"/></g><g id="n766_72"><circle cx="766" cy="1227"/></g><g id="n766_73"><circle cx="766" cy="1240"/></g><g id="n766_74"><circle cx="766" cy="1254"/></g>
<g id="n803_64"><circle cx="803" cy="1120"/></g><g id="n728_64"><circle cx="728" cy="1120"/></g><g id="n728_65"><circle cx="728" cy="1133"/></g><g id="n829_65"><circle cx="829" cy="1133"/></g><g id="n840_66"><circle cx="840" cy="1146"/></g><g id="n850_67"><circle cx="850" cy="1160"/></g><g id="n925_66"><circle cx="925" cy="1146"/></g><g id="n972_67"><circle cx="972" cy="1160"/></g><g id="n695_62"><circle cx="695" cy="1093"/></g>
<g id="n690_63"><circle cx="690" cy="1106"/></g><g id="n690_64"><circle cx="690" cy="1120"/></g><g id="n690_65"><circle cx="690" cy="1133"/></g><g id="n690_66"><circle cx="690" cy="1146"/></g><g id="n690_67"><circle cx="690" cy="1160"/></g><g id="n690_68"><circle cx="690" cy="1173"/></g><g id="n690_69"><circle cx="690" cy="1187"/></g><g id="n690_70"><circle cx="690" cy="1200"/></g><g id="n868_68"><circle cx="868" cy="1173"/></g><g id="n878_69"><circle cx="878" cy="1187"/></g>
<g id="n1029_68"><circle cx="1029" cy="1173"/></g><g id="n1029_69"><circle cx="1029" cy="1187"/></g><g id="n1029_70"><circle cx="1029" cy="1200"/></g><g id="n1029_71"><circle cx="1029" cy="1214"/></g><g id="n1029_72"><circle cx="1029" cy="1227"/></g><g id="n1029_73"><circle cx="1029" cy="1240"/></g><g id="n1029_74"><circle cx="1029" cy="1254"/></g><g id="n1029_75"><circle cx="1029" cy="1267"/></g><g id="n1029_76"><circle cx="1029" cy="1281"/></g><g id="n1029_77"><circle cx="1029" cy="1294"/></g><g id="n1029_78"><circle cx="1029" cy="1308"/></g><g id="n1029_79"><circle cx="1029" cy="1321"/></g><g id="n1029_80"><circle cx="1029" cy="1334"/></g><g id="n1029_81"><circle cx="1029" cy="1348"/></g><g id="n1029_82"><circle cx="1029" cy="1361"/></g><g id="n1029_83"><circle cx="1029" cy="1375"/></g><g id="n1029_84"><circle cx="1029" cy="1388"/></g><g id="n1029_85"><circle cx="1029" cy="1402"/></g><g id="n1029_86"><circle cx="1029" cy="1415"/></g><g id="n1029_87"><circle cx="1029" cy="1428"/></g>
<g id="n1104_69"><circle cx="1104" cy="1187"/></g><g id="n1123_70"><circle cx="1123" cy="1200"/></g><g id="n1123_71"><circle cx="1123" cy="1214"/></g><g id="n1123_72"><circle cx="1123" cy="1227"/></g><g id="n1123_73"><circle cx="1123" cy="1240"/></g><g id="n634_66"><circle cx="634" cy="1146"/></g>
<g id="n615_67"><circle cx="615" cy="1160"/></g><g id="n615_68"><circle cx="615" cy="1173"/></g><g id="n615_69"><circle cx="615" cy="1187"/></g><g id="n615_70"><circle cx="615" cy="1200"/></g><g id="n615_71"><circle cx="615" cy="1214"/></g><g id="n615_72"><circle cx="615" cy="1227"/></g><g id="n615_73"><circle cx="615" cy="1240"/></g><g id="n615_74"><circle cx="615" cy="1254"/></g>
<g id="n653_67"><circle cx="653" cy="1160"/></g><g id="n653_68"><circle cx="653" cy="1173"/></g><g id="n653_69"><circle cx="653" cy="1187"/></g><g id="n653_70"><circle cx="653" cy="1200"/></g><g id="n653_71"><circle cx="653" cy="1214"/></g><g id="n653_72"><circle cx="653" cy="1227"/></g><g id="n653_73"><circle cx="653" cy="1240"/></g><g id="n653_74"><circle cx="653" cy="1254"/></g><g id="n653_75"><circle cx="653" cy="1267"/></g>
<g id="n578_70"><circle cx="578" cy="1200"/></g><g id="n574_71"><circle cx="574" cy="1214"/></g><g id="n554_72"><circle cx="554" cy="1227"/></g><g id="n545_73"><circle cx="545" cy="1240"/></g><g id="n540_74"><circle cx="540" cy="1254"/></g><g id="n540_75"><circle cx="540" cy="1267"/></g><g id="n540_76"><circle cx="540" cy="1281"/></g><g id="n540_77"><circle cx="540" cy="1294"/></g><g id="n540_78"><circle cx="540" cy="1308"/></g><g id="n522_79"><circle cx="522" cy="1321"/></g>
<g id="n559_79"><circle cx="559" cy="1321"/></g><g id="n559_80"><circle cx="559" cy="1334"/></g><g id="n559_81"><circle cx="559" cy="1348"/></g><g id="n559_82"><circle cx="559" cy="1361"/></g><g id="n559_83"><circle cx="559" cy="1375"/></g><g id="n559_84"><circle cx="559" cy="1388"/></g><g id="n559_85"><circle cx="559" cy="1402"/></g><g id="n559_86"><circle cx="559" cy="1415"/></g><g id="n559_87"><circle cx="559" cy="1428"/></g><g id="n559_88"><circle cx="559" cy="1442"/></g><g id="n559_89"><circle cx="559" cy="1455"/></g>
<g id="n578_74"><circle cx="578" cy="1254"/></g><g id="n690_74"><circle cx="690" cy="1254"/></g><g id="n690_75"><circle cx="690" cy="1267"/></g>
<g id="n728_68"><circle cx="728" cy="1173"/></g><g id="n728_69"><circle cx="728" cy="1187"/></g><g id="n728_70"><circle cx="728" cy="1200"/></g><g id="n728_71"><circle cx="728" cy="1214"/></g><g id="n728_72"><circle cx="728" cy="1227"/></g><g id="n728_73"><circle cx="728" cy="1240"/></g><g id="n728_74"><circle cx="728" cy="1254"/></g><g id="n728_75"><circle cx="728" cy="1267"/></g>
<g id="n803_68"><circle cx="803" cy="1173"/></g><g id="n803_69"><circle cx="803" cy="1187"/></g><g id="n803_70"><circle cx="803" cy="1200"/></g><g id="n803_71"><circle cx="803" cy="1214"/></g><g id="n803_72"><circle cx="803" cy="1227"/></g><g id="n803_73"><circle cx="803" cy="1240"/></g><g id="n803_74"><circle cx="803" cy="1254"/></g><g id="n798_75"><circle cx="798" cy="1267"/></g><g id="n793_76"><circle cx="793" cy="1281"/></g><g id="n776_77"><circle cx="776" cy="1294"/></g><g id="n776_78"><circle cx="776" cy="1308"/></g><g id="n772_79"><circle cx="772" cy="1321"/></g><g id="n769_80"><circle cx="769" cy="1334"/></g><g id="n769_81"><circle cx="769" cy="1348"/></g><g id="n757_82"><circle cx="757" cy="1361"/></g><g id="n734_83"><circle cx="734" cy="1375"/></g><g id="n732_84"><circle cx="732" cy="1388"/></g><g id="n732_85"><circle cx="732" cy="1402"/></g><g id="n729_86"><circle cx="729" cy="1415"/></g><g id="n729_87"><circle cx="729" cy="1428"/></g><g id="n729_88"><circle cx="729" cy="1442"/></g><g id="n729_89"><circle cx="729" cy="1455"/></g>
<g id="n840_69"><circle cx="840" cy="1187"/></g><g id="n840_70"><circle cx="840" cy="1200"/></g><g id="n840_71"><circle cx="840" cy="1214"/></g><g id="n840_72"><circle cx="840" cy="1227"/></g><g id="n840_73"><circle cx="840" cy="1240"/></g><g id="n840_74"><circle cx="840" cy="1254"/></g><g id="n840_75"><circle cx="840" cy="1267"/></g><g id="n840_76"><circle cx="840" cy="1281"/></g><g id="n850_77"><circle cx="850" cy="1294"/></g>
<g id="n812_77"><circle cx="812" cy="1294"/></g><g id="n812_78"><circle cx="812" cy="1308"/></g><g id="n812_79"><circle cx="812" cy="1321"/></g><g id="n812_80"><circle cx="812" cy="1334"/></g><g id="n812_81"><circle cx="812" cy="1348"/></g><g id="n812_82"><circle cx="812" cy="1361"/></g>
<g id="n693_85"><circle cx="693" cy="1402"/></g><g id="n673_86"><circle cx="673" cy="1415"/></g><g id="n654_87"><circle cx="654" cy="1428"/></g><g id="n654_88"><circle cx="654" cy="1442"/></g><g id="n692_87"><circle cx="692" cy="1428"/></g><g id="n692_88"><circle cx="692" cy="1442"/></g><g id="n617_88"><circle cx="617" cy="1442"/></g><g id="n617_89"><circle cx="617" cy="1455"/></g><g id="n617_90"><circle cx="617" cy="1469"/></g><g id="n654_90"><circle cx="654" cy="1469"/></g>
<g id="n579_90"><circle cx="579" cy="1469"/></g><g id="n579_91"><circle cx="579" cy="1482"/></g><g id="n579_92"><circle cx="579" cy="1496"/></g><g id="n579_93"><circle cx="579" cy="1509"/></g><g id="n579_94"><circle cx="579" cy="1522"/></g><g id="n579_95"><circle cx="579" cy="1536"/></g><g id="n579_96"><circle cx="579" cy="1549"/></g><g id="n579_97"><circle cx="579" cy="1563"/></g><g id="n579_98"><circle cx="579" cy="1576"/></g><g id="n579_99"><circle cx="579" cy="1590"/></g><g id="n579_100"><circle cx="579" cy="1603"/></g><g id="n579_101"><circle cx="579" cy="1616"/></g>
<g id="n786_86"><circle cx="786" cy="1415"/></g><g id="n786_87"><circle cx="786" cy="1428"/></g><g id="n767_88"><circle cx="767" cy="1442"/></g><g id="n804_88"><circle cx="804" cy="1442"/></g><g id="n804_89"><circle cx="804" cy="1455"/></g><g id="n842_85"><circle cx="842" cy="1402"/></g><g id="n842_86"><circle cx="842" cy="1415"/></g><g id="n842_87"><circle cx="842" cy="1428"/></g><g id="n842_88"><circle cx="842" cy="1442"/></g>
<g id="n879_82"><circle cx="879" cy="1361"/></g><g id="n879_83"><circle cx="879" cy="1375"/></g><g id="n879_84"><circle cx="879" cy="1388"/></g><g id="n879_85"><circle cx="879" cy="1402"/></g><g id="n879_86"><circle cx="879" cy="1415"/></g><g id="n879_87"><circle cx="879" cy="1428"/></g><g id="n879_88"><circle cx="879" cy="1442"/></g><g id="n879_89"><circle cx="879" cy="1455"/></g>
<g id="n917_82"><circle cx="917" cy="1361"/></g><g id="n917_83"><circle cx="917" cy="1375"/></g><g id="n917_84"><circle cx="917" cy="1388"/></g><g id="n917_85"><circle cx="917" cy="1402"/></g><g id="n917_86"><circle cx="917" cy="1415"/></g><g id="n917_87"><circle cx="917" cy="1428"/></g><g id="n917_88"><circle cx="917" cy="1442"/></g><g id="n917_89"><circle cx="917" cy="1455"/></g><g id="n917_90"><circle cx="917" cy="1469"/></g>
<g id="n936_81"><circle cx="936" cy="1348"/></g><g id="n954_82"><circle cx="954" cy="1361"/></g><g id="n973_83"><circle cx="973" cy="1375"/></g><g id="n983_84"><circle cx="983" cy="1388"/></g><g id="n992_85"><circle cx="992" cy="1402"/></g>
<g id="n954_85"><circle cx="954" cy="1402"/></g><g id="n954_86"><circle cx="954" cy="1415"/></g><g id="n954_87"><circle cx="954" cy="1428"/></g><g id="n954_88"><circle cx="954" cy="1442"/></g><g id="n954_89"><circle cx="954" cy="1455"/></g><g id="n954_90"><circle cx="954" cy="1469"/></g><g id="n954_91"><circle cx="954" cy="1482"/></g><g id="n954_92"><circle cx="954" cy="1496"/></g><g id="n954_93"><circle cx="954" cy="1509"/></g><g id="n954_94"><circle cx="954" cy="1522"/></g>
<g id="n992_77"><circle cx="992" cy="1294"/></g><g id="n992_78"><circle cx="992" cy="1308"/></g><g id="n992_79"><circle cx="992" cy="1321"/></g><g id="n992_80"><circle cx="992" cy="1334"/></g><g id="n992_81"><circle cx="992" cy="1348"/></g><g id="n992_82"><circle cx="992" cy="1361"/></g>
<g id="n954_73"><circle cx="954" cy="1240"/></g><g id="n954_74"><circle cx="954" cy="1254"/></g><g id="n954_75"><circle cx="954" cy="1267"/></g><g id="n954_76"><circle cx="954" cy="1281"/></g><g id="n954_77"><circle cx="954" cy="1294"/></g><g id="n954_78"><circle cx="954" cy="1308"/></g><g id="n964_72"><circle cx="964" cy="1227"/></g><g id="n982_71"><circle cx="982" cy="1214"/></g><g id="n992_73"><circle cx="992" cy="1240"/></g><g id="n992_74"><circle cx="992" cy="1254"/></g>
<g id="n1067_73"><circle cx="1067" cy="1240"/></g><g id="n1067_74"><circle cx="1067" cy="1254"/></g><g id="n1067_75"><circle cx="1067" cy="1267"/></g>
<g id="n1104_74"><circle cx="1104" cy="1254"/></g><g id="n1104_75"><circle cx="1104" cy="1267"/></g><g id="n1104_76"><circle cx="1104" cy="1281"/></g><g id="n1104_77"><circle cx="1104" cy="1294"/></g><g id="n1104_78"><circle cx="1104" cy="1308"/></g><g id="n1104_79"><circle cx="1104" cy="1321"/></g><g id="n1104_80"><circle cx="1104" cy="1334"/></g><g id="n1104_81"><circle cx="1104" cy="1348"/></g><g id="n1104_82"><circle cx="1104" cy="1361"/></g><g id="n1104_83"><circle cx="1104" cy="1375"/></g><g id="n1104_84"><circle cx="1104" cy="1388"/></g>
<g id="n1142_84"><circle cx="1142" cy="1388"/></g><g id="n1137_85"><circle cx="1137" cy="1402"/></g><g id="n1127_86"><circle cx="1127" cy="1415"/></g><g id="n1165_86"><circle cx="1165" cy="1415"/></g>
<g id="n1142_74"><circle cx="1142" cy="1254"/></g><g id="n1142_75"><circle cx="1142" cy="1267"/></g><g id="n1142_76"><circle cx="1142" cy="1281"/></g><g id="n1142_77"><circle cx="1142" cy="1294"/></g><g id="n1142_78"><circle cx="1142" cy="1308"/></g><g id="n1142_79"><circle cx="1142" cy="1321"/></g><g id="n1142_80"><circle cx="1142" cy="1334"/></g><g id="n1161_73"><circle cx="1161" cy="1240"/></g>
<g id="n1067_78"><circle cx="1067" cy="1308"/></g><g id="n1067_79"><circle cx="1067" cy="1321"/></g><g id="n1067_80"><circle cx="1067" cy="1334"/></g><g id="n1067_81"><circle cx="1067" cy="1348"/></g><g id="n1067_82"><circle cx="1067" cy="1361"/></g><g id="n1067_83"><circle cx="1067" cy="1375"/></g><g id="n1067_84"><circle cx="1067" cy="1388"/></g><g id="n1067_85"><circle cx="1067" cy="1402"/></g><g id="n1067_86"><circle cx="1067" cy="1415"/></g><g id="n1067_87"><circle cx="1067" cy="1428"/></g>
<g id="n542_99"><circle cx="542" cy="1590"/></g><g id="n542_100"><circle cx="542" cy="1603"/></g><g id="n542_101"><circle cx="542" cy="1616"/></g>
<g id="n617_99"><circle cx="617" cy="1590"/></g><g id="n617_100"><circle cx="617" cy="1603"/></g><g id="n617_101"><circle cx="617" cy="1616"/></g><g id="n617_102"><circle cx="617" cy="1630"/></g><g id="n617_103"><circle cx="617" cy="1643"/></g><g id="n617_104"><circle cx="617" cy="1657"/></g><g id="n617_105"><circle cx="617" cy="1670"/></g><g id="n617_106"><circle cx="617" cy="1684"/></g><g id="n617_107"><circle cx="617" cy="1697"/></g><g id="n654_101"><circle cx="654" cy="1616"/></g>
<g id="n524_102"><circle cx="524" cy="1630"/></g><g id="n524_103"><circle cx="524" cy="1643"/></g><g id="n524_104"><circle cx="524" cy="1657"/></g><g id="n485_104"><circle cx="485" cy="1657"/></g><g id="n485_105"><circle cx="485" cy="1670"/></g><g id="n560_102"><circle cx="560" cy="1630"/></g><g id="n560_103"><circle cx="560" cy="1643"/></g><g id="n560_104"><circle cx="560" cy="1657"/></g><g id="n560_105"><circle cx="560" cy="1670"/></g><g id="n532_106"><circle cx="532" cy="1684"/></g>
<g id="n570_106"><circle cx="570" cy="1684"/></g><g id="n570_107"><circle cx="570" cy="1697"/></g><g id="n570_108"><circle cx="570" cy="1710"/></g><g id="n570_109"><circle cx="570" cy="1724"/></g><g id="n570_110"><circle cx="570" cy="1737"/></g><g id="n570_111"><circle cx="570" cy="1751"/></g>
<g id="n612_108"><circle cx="612" cy="1710"/></g><g id="n612_109"><circle cx="612" cy="1724"/></g><g id="n612_110"><circle cx="612" cy="1737"/></g><g id="n612_111"><circle cx="612" cy="1751"/></g><g id="n612_112"><circle cx="612" cy="1764"/></g><g id="n612_113"><circle cx="612" cy="1778"/></g>
<g id="n649_108"><circle cx="649" cy="1710"/></g><g id="n649_109"><circle cx="649" cy="1724"/></g><g id="n649_110"><circle cx="649" cy="1737"/></g><g id="n649_111"><circle cx="649" cy="1751"/></g><g id="n649_112"><circle cx="649" cy="1764"/></g><g id="n687_112"><circle cx="687" cy="1764"/></g>
<g id="n574_112"><circle cx="574" cy="1764"/></g><g id="n574_113"><circle cx="574" cy="1778"/></g><g id="n574_114"><circle cx="574" cy="1791"/></g><g id="n574_115"><circle cx="574" cy="1804"/></g><g id="n574_116"><circle cx="574" cy="1818"/></g><g id="n574_117"><circle cx="574" cy="1831"/></g><g id="n574_118"><circle cx="574" cy="1845"/></g><g id="n574_119"><circle cx="574" cy="1858"/></g><g id="n574_120"><circle cx="574" cy="1872"/></g><g id="n574_121"><circle cx="574" cy="1885"/></g><g id="n574_122"><circle cx="574" cy="1898"/></g>
<g id="n612_118"><circle cx="612" cy="1845"/></g><g id="n612_119"><circle cx="612" cy="1858"/></g><g id="n612_120"><circle cx="612" cy="1872"/></g><g id="n612_121"><circle cx="612" cy="1885"/></g><g id="n612_122"><circle cx="612" cy="1898"/></g>
<g id="n1180_71"><circle cx="1180" cy="1214"/></g><g id="n1180_72"><circle cx="1180" cy="1227"/></g><g id="n1245_72"><circle cx="1245" cy="1227"/></g><g id="n1235_73"><circle cx="1235" cy="1240"/></g><g id="n1273_73"><circle cx="1273" cy="1240"/></g><g id="n1273_74"><circle cx="1273" cy="1254"/></g><g id="n1278_75"><circle cx="1278" cy="1267"/></g><g id="n1198_73"><circle cx="1198" cy="1240"/></g><g id="n1180_74"><circle cx="1180" cy="1254"/></g><g id="n1207_75"><circle cx="1207" cy="1267"/></g><g id="n1235_76"><circle cx="1235" cy="1281"/></g><g id="n1254_77"><circle cx="1254" cy="1294"/></g><g id="n1312_76"><circle cx="1312" cy="1281"/></g>
<g id="n1352_77"><circle cx="1352" cy="1294"/></g><g id="n1352_78"><circle cx="1352" cy="1308"/></g><g id="n1352_79"><circle cx="1352" cy="1321"/></g><g id="n1352_80"><circle cx="1352" cy="1334"/></g><g id="n1180_76"><circle cx="1180" cy="1281"/></g><g id="n1180_77"><circle cx="1180" cy="1294"/></g><g id="n1180_78"><circle cx="1180" cy="1308"/></g>
<g id="n1217_77"><circle cx="1217" cy="1294"/></g><g id="n1217_78"><circle cx="1217" cy="1308"/></g><g id="n1217_79"><circle cx="1217" cy="1321"/></g><g id="n1217_80"><circle cx="1217" cy="1334"/></g><g id="n1217_81"><circle cx="1217" cy="1348"/></g><g id="n1217_82"><circle cx="1217" cy="1361"/></g><g id="n1221_83"><circle cx="1221" cy="1375"/></g><g id="n1221_84"><circle cx="1221" cy="1388"/></g><g id="n1221_85"><circle cx="1221" cy="1402"/></g>
<g id="n1184_83"><circle cx="1184" cy="1375"/></g><g id="n1184_84"><circle cx="1184" cy="1388"/></g><g id="n1184_85"><circle cx="1184" cy="1402"/></g><g id="n1202_86"><circle cx="1202" cy="1415"/></g><g id="n1184_87"><circle cx="1184" cy="1428"/></g><g id="n1184_88"><circle cx="1184" cy="1442"/></g><g id="n1184_89"><circle cx="1184" cy="1455"/></g>
<g id="n1221_87"><circle cx="1221" cy="1428"/></g><g id="n1221_88"><circle cx="1221" cy="1442"/></g><g id="n1221_89"><circle cx="1221" cy="1455"/></g><g id="n1221_90"><circle cx="1221" cy="1469"/></g><g id="n1221_91"><circle cx="1221" cy="1482"/></g><g id="n1221_92"><circle cx="1221" cy="1496"/></g><g id="n1221_93"><circle cx="1221" cy="1509"/></g><g id="n1221_94"><circle cx="1221" cy="1522"/></g><g id="n1221_95"><circle cx="1221" cy="1536"/></g><g id="n1221_96"><circle cx="1221" cy="1549"/></g><g id="n1221_97"><circle cx="1221" cy="1563"/></g><g id="n1221_98"><circle cx="1221" cy="1576"/></g><g id="n1221_99"><circle cx="1221" cy="1590"/></g><g id="n1221_100"><circle cx="1221" cy="1603"/></g>
<g id="n1249_86"><circle cx="1249" cy="1415"/></g><g id="n1259_84"><circle cx="1259" cy="1388"/></g><g id="n1259_85"><circle cx="1259" cy="1402"/></g><g id="n1263_83"><circle cx="1263" cy="1375"/></g><g id="n1274_82"><circle cx="1274" cy="1361"/></g><g id="n1279_81"><circle cx="1279" cy="1348"/></g><g id="n1315_80"><circle cx="1315" cy="1334"/></g>
<g id="n1296_84"><circle cx="1296" cy="1388"/></g><g id="n1296_85"><circle cx="1296" cy="1402"/></g><g id="n1296_86"><circle cx="1296" cy="1415"/></g><g id="n1296_87"><circle cx="1296" cy="1428"/></g><g id="n1296_88"><circle cx="1296" cy="1442"/></g><g id="n1296_89"><circle cx="1296" cy="1455"/></g><g id="n1296_90"><circle cx="1296" cy="1469"/></g><g id="n1296_91"><circle cx="1296" cy="1482"/></g><g id="n1296_92"><circle cx="1296" cy="1496"/></g><g id="n1296_93"><circle cx="1296" cy="1509"/></g><g id="n1296_94"><circle cx="1296" cy="1522"/></g><g id="n1296_95"><circle cx="1296" cy="1536"/></g>
<g id="n1259_87"><circle cx="1259" cy="1428"/></g><g id="n1259_88"><circle cx="1259" cy="1442"/></g><g id="n1259_89"><circle cx="1259" cy="1455"/></g><g id="n1259_90"><circle cx="1259" cy="1469"/></g><g id="n1259_91"><circle cx="1259" cy="1482"/></g><g id="n1259_92"><circle cx="1259" cy="1496"/></g><g id="n1259_93"><circle cx="1259" cy="1509"/></g><g id="n1274_96"><circle cx="1274" cy="1549"/></g>
<g id="n1334_81"><circle cx="1334" cy="1348"/></g><g id="n1334_82"><circle cx="1334" cy="1361"/></g><g id="n1334_83"><circle cx="1334" cy="1375"/></g><g id="n1334_84"><circle cx="1334" cy="1388"/></g><g id="n1334_85"><circle cx="1334" cy="1402"/></g><g id="n1334_86"><circle cx="1334" cy="1415"/></g><g id="n1334_87"><circle cx="1334" cy="1428"/></g><g id="n1334_88"><circle cx="1334" cy="1442"/></g><g id="n1334_89"><circle cx="1334" cy="1455"/></g><g id="n1334_90"><circle cx="1334" cy="1469"/></g><g id="n1334_91"><circle cx="1334" cy="1482"/></g><g id="n1334_92"><circle cx="1334" cy="1496"/></g><g id="n1334_93"><circle cx="1334" cy="1509"/></g><g id="n1334_94"><circle cx="1334" cy="1522"/></g><g id="n1334_95"><circle cx="1334" cy="1536"/></g>
<g id="n1371_81"><circle cx="1371" cy="1348"/></g><g id="n1371_82"><circle cx="1371" cy="1361"/></g><g id="n1371_83"><circle cx="1371" cy="1375"/></g><g id="n1371_84"><circle cx="1371" cy="1388"/></g><g id="n1371_85"><circle cx="1371" cy="1402"/></g><g id="n1381_86"><circle cx="1381" cy="1415"/></g><g id="n1390_87"><circle cx="1390" cy="1428"/></g><g id="n1409_84"><circle cx="1409" cy="1388"/></g><g id="n1409_85"><circle cx="1409" cy="1402"/></g>
<g id="n1371_88"><circle cx="1371" cy="1442"/></g><g id="n1371_89"><circle cx="1371" cy="1455"/></g><g id="n1371_90"><circle cx="1371" cy="1469"/></g><g id="n1371_91"><circle cx="1371" cy="1482"/></g><g id="n1371_92"><circle cx="1371" cy="1496"/></g><g id="n1371_93"><circle cx="1371" cy="1509"/></g><g id="n1371_94"><circle cx="1371" cy="1522"/></g><g id="n1371_95"><circle cx="1371" cy="1536"/></g>
<g id="n1409_88"><circle cx="1409" cy="1442"/></g><g id="n1409_89"><circle cx="1409" cy="1455"/></g><g id="n1409_90"><circle cx="1409" cy="1469"/></g><g id="n1446_88"><circle cx="1446" cy="1442"/></g><g id="n1446_89"><circle cx="1446" cy="1455"/></g><g id="n1484_89"><circle cx="1484" cy="1455"/></g><g id="n1409_95"><circle cx="1409" cy="1536"/></g><g id="n1409_96"><circle cx="1409" cy="1549"/></g><g id="n1409_97"><circle cx="1409" cy="1563"/></g><g id="n1409_98"><circle cx="1409" cy="1576"/></g>
<g id="n1414_78"><circle cx="1414" cy="1308"/></g><g id="n1436_79"><circle cx="1436" cy="1321"/></g><g id="n1483_80"><circle cx="1483" cy="1334"/></g><g id="n1502_81"><circle cx="1502" cy="1348"/></g><g id="n1502_82"><circle cx="1502" cy="1361"/></g><g id="n1427_80"><circle cx="1427" cy="1334"/></g><g id="n1427_81"><circle cx="1427" cy="1348"/></g><g id="n1427_82"><circle cx="1427" cy="1361"/></g><g id="n1437_83"><circle cx="1437" cy="1375"/></g><g id="n1446_84"><circle cx="1446" cy="1388"/></g><g id="n1446_85"><circle cx="1446" cy="1402"/></g><g id="n1465_81"><circle cx="1465" cy="1348"/></g><g id="n1465_82"><circle cx="1465" cy="1361"/></g><g id="n1484_83"><circle cx="1484" cy="1375"/></g><g id="n1484_84"><circle cx="1484" cy="1388"/></g>
<g id="n1531_84"><circle cx="1531" cy="1388"/></g><g id="n1549_85"><circle cx="1549" cy="1402"/></g><g id="n1584_86"><circle cx="1584" cy="1415"/></g><g id="n1629_87"><circle cx="1629" cy="1428"/></g><g id="n1654_88"><circle cx="1654" cy="1442"/></g><g id="n1654_89"><circle cx="1654" cy="1455"/></g><g id="n1654_90"><circle cx="1654" cy="1469"/></g><g id="n1690_89"><circle cx="1690" cy="1455"/></g><g id="n1690_90"><circle cx="1690" cy="1469"/></g><g id="n1505_86"><circle cx="1505" cy="1415"/></g><g id="n1505_87"><circle cx="1505" cy="1428"/></g><g id="n1540_88"><circle cx="1540" cy="1442"/></g>
<g id="n1521_89"><circle cx="1521" cy="1455"/></g><g id="n1521_90"><circle cx="1521" cy="1469"/></g><g id="n1521_91"><circle cx="1521" cy="1482"/></g><g id="n1521_92"><circle cx="1521" cy="1496"/></g><g id="n1521_93"><circle cx="1521" cy="1509"/></g><g id="n1521_94"><circle cx="1521" cy="1522"/></g><g id="n1521_95"><circle cx="1521" cy="1536"/></g>
<g id="n1559_89"><circle cx="1559" cy="1455"/></g><g id="n1559_90"><circle cx="1559" cy="1469"/></g><g id="n1559_91"><circle cx="1559" cy="1482"/></g><g id="n1559_92"><circle cx="1559" cy="1496"/></g><g id="n1559_93"><circle cx="1559" cy="1509"/></g><g id="n1596_89"><circle cx="1596" cy="1455"/></g><g id="n1596_90"><circle cx="1596" cy="1469"/></g><g id="n1596_91"><circle cx="1596" cy="1482"/></g><g id="n1596_92"><circle cx="1596" cy="1496"/></g>
<g id="n1634_91"><circle cx="1634" cy="1482"/></g><g id="n1634_92"><circle cx="1634" cy="1496"/></g><g id="n1634_93"><circle cx="1634" cy="1509"/></g><g id="n1634_94"><circle cx="1634" cy="1522"/></g><g id="n1634_95"><circle cx="1634" cy="1536"/></g><g id="n1671_91"><circle cx="1671" cy="1482"/></g><g id="n1671_92"><circle cx="1671" cy="1496"/></g><g id="n1671_93"><circle cx="1671" cy="1509"/></g><g id="n1671_94"><circle cx="1671" cy="1522"/></g><g id="n1671_95"><circle cx="1671" cy="1536"/></g><g id="n1671_96"><circle cx="1671" cy="1549"/></g>
<g id="n1709_94"><circle cx="1709" cy="1522"/></g><g id="n1709_95"><circle cx="1709" cy="1536"/></g><g id="n1709_96"><circle cx="1709" cy="1549"/></g><g id="n1709_97"><circle cx="1709" cy="1563"/></g><g id="n1709_98"><circle cx="1709" cy="1576"/></g><g id="n1709_99"><circle cx="1709" cy="1590"/></g>
<g id="n1484_92b"><circle cx="1484" cy="1496"/></g><g id="n1484_93"><circle cx="1484" cy="1509"/></g><g id="n1484_94"><circle cx="1484" cy="1522"/></g><g id="n1484_95"><circle cx="1484" cy="1536"/></g><g id="n1484_96"><circle cx="1484" cy="1549"/></g><g id="n1484_97"><circle cx="1484" cy="1563"/></g><g id="n1465_98"><circle cx="1465" cy="1576"/></g><g id="n1465_99"><circle cx="1465" cy="1590"/></g><g id="n1503_98"><circle cx="1503" cy="1576"/></g><g id="n1503_99"><circle cx="1503" cy="1590"/></g><g id="n1484_100"><circle cx="1484" cy="1603"/></g>
<g id="n1521_100"><circle cx="1521" cy="1603"/></g><g id="n1521_101"><circle cx="1521" cy="1616"/></g><g id="n1521_102"><circle cx="1521" cy="1630"/></g><g id="n1521_103"><circle cx="1521" cy="1643"/></g><g id="n1521_104"><circle cx="1521" cy="1657"/></g><g id="n1521_105"><circle cx="1521" cy="1670"/></g><g id="n1559_95"><circle cx="1559" cy="1536"/></g><g id="n1559_96"><circle cx="1559" cy="1549"/></g>
<g id="n1310_96"><circle cx="1310" cy="1549"/></g><g id="n1310_97"><circle cx="1310" cy="1563"/></g><g id="n1310_98"><circle cx="1310" cy="1576"/></g><g id="n1310_99"><circle cx="1310" cy="1590"/></g><g id="n1349_99"><circle cx="1349" cy="1590"/></g>
<g id="n1274_99"><circle cx="1274" cy="1590"/></g><g id="n1274_100"><circle cx="1274" cy="1603"/></g><g id="n1274_101"><circle cx="1274" cy="1616"/></g><g id="n1274_102"><circle cx="1274" cy="1630"/></g><g id="n1274_103"><circle cx="1274" cy="1643"/></g><g id="n1274_104"><circle cx="1274" cy="1657"/></g><g id="n1274_105"><circle cx="1274" cy="1670"/></g><g id="n1274_106"><circle cx="1274" cy="1684"/></g><g id="n1274_107"><circle cx="1274" cy="1697"/></g>
<g id="n1310_105"><circle cx="1310" cy="1670"/></g><g id="n1310_106"><circle cx="1310" cy="1684"/></g><g id="n1310_107"><circle cx="1310" cy="1697"/></g><g id="n1202_105"><circle cx="1202" cy="1670"/></g>
<g id="n1184_106"><circle cx="1185" cy="1684"/></g><g id="n1184_107"><circle cx="1185" cy="1697"/></g><g id="n1184_108"><circle cx="1185" cy="1710"/></g><g id="n1184_109"><circle cx="1185" cy="1724"/></g><g id="n1184_110"><circle cx="1185" cy="1737"/></g><g id="n1184_111"><circle cx="1185" cy="1751"/></g>
<g id="n1221_106"><circle cx="1221" cy="1684"/></g><g id="n1221_107"><circle cx="1221" cy="1697"/></g><g id="n1221_108"><circle cx="1221" cy="1710"/></g><g id="n1221_110"><circle cx="1221" cy="1737"/></g><g id="n1296_108"><circle cx="1296" cy="1710"/></g><g id="n1260_108"><circle cx="1260" cy="1710"/></g><g id="n1260_109"><circle cx="1260" cy="1724"/></g><g id="n1260_110"><circle cx="1260" cy="1737"/></g>
<g id="n1146_106"><circle cx="1146" cy="1684"/></g><g id="n1146_107"><circle cx="1146" cy="1697"/></g><g id="n1146_108"><circle cx="1146" cy="1710"/></g><g id="n1146_109"><circle cx="1146" cy="1724"/></g><g id="n1146_110"><circle cx="1146" cy="1737"/></g><g id="n1146_111"><circle cx="1146" cy="1751"/></g><g id="n1146_112"><circle cx="1146" cy="1764"/></g><g id="n1146_113"><circle cx="1146" cy="1778"/></g><g id="n1146_114"><circle cx="1146" cy="1791"/></g><g id="n1146_115"><circle cx="1146" cy="1804"/></g><g id="n1146_116"><circle cx="1146" cy="1818"/></g>
<g id="n1109_111"><circle cx="1109" cy="1751"/></g><g id="n1109_112"><circle cx="1109" cy="1764"/></g><g id="n1109_113"><circle cx="1109" cy="1778"/></g><g id="n1109_114"><circle cx="1109" cy="1791"/></g><g id="n1109_115"><circle cx="1109" cy="1804"/></g><g id="n1109_116"><circle cx="1109" cy="1818"/></g><g id="n1109_117"><circle cx="1109" cy="1831"/></g>
<g id="n1071_112"><circle cx="1071" cy="1764"/></g><g id="n1071_113"><circle cx="1071" cy="1778"/></g><g id="n1071_114"><circle cx="1071" cy="1791"/></g><g id="n1071_115"><circle cx="1071" cy="1804"/></g><g id="n1071_116"><circle cx="1071" cy="1818"/></g><g id="n1071_117"><circle cx="1071" cy="1831"/></g><g id="n1071_118"><circle cx="1071" cy="1845"/></g><g id="n1071_119"><circle cx="1071" cy="1858"/></g>
<g id="n1185_113"><circle cx="1185" cy="1778"/></g><g id="n1185_114"><circle cx="1185" cy="1791"/></g><g id="n1185_115"><circle cx="1185" cy="1804"/></g><g id="n1185_116"><circle cx="1185" cy="1818"/></g><g id="n1185_117"><circle cx="1185" cy="1831"/></g><g id="n1221_115"><circle cx="1221" cy="1804"/></g><g id="n1221_116"><circle cx="1221" cy="1818"/></g><g id="n1230_113"><circle cx="1230" cy="1778"/></g><g id="n1240_114"><circle cx="1240" cy="1791"/></g>
<g id="n1260_115"><circle cx="1260" cy="1804"/></g><g id="n1260_116"><circle cx="1260" cy="1818"/></g><g id="n1260_117"><circle cx="1260" cy="1831"/></g><g id="n1260_118"><circle cx="1260" cy="1845"/></g><g id="n1260_119"><circle cx="1260" cy="1858"/></g><g id="n1260_120"><circle cx="1260" cy="1872"/></g>
<g id="n1035_115"><circle cx="1035" cy="1804"/></g><g id="n1035_116"><circle cx="1035" cy="1818"/></g><g id="n1035_117"><circle cx="1035" cy="1831"/></g><g id="n1035_118"><circle cx="1035" cy="1845"/></g><g id="n1035_119"><circle cx="1035" cy="1858"/></g><g id="n1047_120"><circle cx="1047" cy="1872"/></g><g id="n1085_120"><circle cx="1085" cy="1872"/></g><g id="n1085_121"><circle cx="1085" cy="1885"/></g><g id="n1092_122"><circle cx="1092" cy="1898"/></g><g id="n1054_122"><circle cx="1054" cy="1898"/></g>
<g id="n1044_123"><circle cx="1044" cy="1912"/></g><g id="n1044_124"><circle cx="1044" cy="1925"/></g><g id="n1044_125"><circle cx="1044" cy="1939"/></g><g id="n1044_126"><circle cx="1044" cy="1952"/></g><g id="n1044_127"><circle cx="1044" cy="1966"/></g><g id="n1044_128"><circle cx="1044" cy="1979"/></g><g id="n1044_129"><circle cx="1044" cy="1992"/></g><g id="n1044_130"><circle cx="1044" cy="2006"/></g><g id="n1044_131"><circle cx="1044" cy="2019"/></g><g id="n1044_132"><circle cx="1044" cy="2033"/></g>
<g id="n1081_123"><circle cx="1081" cy="1912"/></g><g id="n1081_124"><circle cx="1081" cy="1925"/></g><g id="n1081_125"><circle cx="1081" cy="1939"/></g><g id="n1081_126"><circle cx="1081" cy="1952"/></g>
<g id="n1119_124"><circle cx="1119" cy="1925"/></g><g id="n1119_125"><circle cx="1119" cy="1939"/></g><g id="n1119_126"><circle cx="1119" cy="1952"/></g><g id="n1119_127"><circle cx="1119" cy="1966"/></g><g id="n1119_128"><circle cx="1119" cy="1979"/></g><g id="n1119_129"><circle cx="1119" cy="1992"/></g><g id="n1119_130"><circle cx="1119" cy="2006"/></g><g id="n1119_131"><circle cx="1119" cy="2019"/></g>
<g id="n1156_126"><circle cx="1156" cy="1952"/></g><g id="n1156_127"><circle cx="1156" cy="1966"/></g><g id="n1081_131"><circle cx="1081" cy="2019"/></g><g id="n1054_133"><circle cx="1054" cy="2046"/></g><g id="n1016_133"><circle cx="1016" cy="2046"/></g><g id="n1156_131"><circle cx="1156" cy="2019"/></g><g id="n1156_132"><circle cx="1156" cy="2033"/></g>
<g id="n1148_133"><circle cx="1148" cy="2046"/></g><g id="n1148_134"><circle cx="1148" cy="2060"/></g><g id="n1148_135"><circle cx="1148" cy="2073"/></g><g id="n1148_136"><circle cx="1148" cy="2086"/></g><g id="n1189_133"><circle cx="1189" cy="2046"/></g><g id="n1189_134"><circle cx="1189" cy="2060"/></g><g id="n1189_135"><circle cx="1189" cy="2073"/></g><g id="n1195_136"><circle cx="1195" cy="2086"/></g><g id="n1203_137"><circle cx="1203" cy="2100"/></g><g id="n1203_138"><circle cx="1203" cy="2113"/></g><g id="n1109_135"><circle cx="1109" cy="2073"/></g><g id="n1100_136"><circle cx="1100" cy="2086"/></g><g id="n1091_137"><circle cx="1091" cy="2100"/></g><g id="n1091_138"><circle cx="1091" cy="2113"/></g><g id="n1129_137"><circle cx="1129" cy="2100"/></g><g id="n1166_137"><circle cx="1166" cy="2100"/></g><g id="n1166_138"><circle cx="1166" cy="2113"/></g>
<g id="n1185_139"><circle cx="1185" cy="2127"/></g><g id="n1185_140"><circle cx="1185" cy="2140"/></g><g id="n1185_141"><circle cx="1185" cy="2154"/></g><g id="n1185_142"><circle cx="1185" cy="2167"/></g><g id="n1185_143"><circle cx="1185" cy="2180"/></g><g id="n1156_144"><circle cx="1156" cy="2194"/></g><g id="n1193_144"><circle cx="1193" cy="2194"/></g><g id="n1223_140"><circle cx="1223" cy="2140"/></g><g id="n1223_141"><circle cx="1223" cy="2154"/></g><g id="n1225_142"><circle cx="1225" cy="2167"/></g><g id="n1230_143"><circle cx="1230" cy="2180"/></g><g id="n1230_144"><circle cx="1230" cy="2194"/></g><g id="n1240_145"><circle cx="1240" cy="2207"/></g>
<g id="n1252_121"><circle cx="1252" cy="1885"/></g><g id="n1252_122"><circle cx="1252" cy="1898"/></g><g id="n1251_123"><circle cx="1251" cy="1912"/></g><g id="n1290_121"><circle cx="1290" cy="1885"/></g><g id="n1290_122"><circle cx="1290" cy="1898"/></g><g id="n1290_123"><circle cx="1290" cy="1912"/></g><g id="n1207_124"><circle cx="1207" cy="1925"/></g><g id="n1245_124"><circle cx="1245" cy="1925"/></g><g id="n1224_125"><circle cx="1224" cy="1939"/></g><g id="n1205_126"><circle cx="1205" cy="1952"/></g><g id="n1205_127"><circle cx="1205" cy="1966"/></g>
<g id="n1243_126"><circle cx="1243" cy="1952"/></g><g id="n1243_127"><circle cx="1243" cy="1966"/></g><g id="n1243_128"><circle cx="1243" cy="1979"/></g><g id="n1243_129"><circle cx="1243" cy="1992"/></g><g id="n1243_130"><circle cx="1243" cy="2006"/></g><g id="n1243_131"><circle cx="1243" cy="2019"/></g><g id="n1282_124"><circle cx="1282" cy="1925"/></g><g id="n1280_125"><circle cx="1280" cy="1939"/></g><g id="n1280_126"><circle cx="1280" cy="1952"/></g><g id="n1280_127"><circle cx="1280" cy="1966"/></g><g id="n1280_128"><circle cx="1280" cy="1979"/></g><g id="n1280_129"><circle cx="1280" cy="1992"/></g>
<g id="n1318_125"><circle cx="1318" cy="1939"/></g><g id="n1318_126"><circle cx="1318" cy="1952"/></g><g id="n1318_127"><circle cx="1318" cy="1966"/></g><g id="n1318_128"><circle cx="1318" cy="1979"/></g><g id="n1318_129"><circle cx="1318" cy="1992"/></g><g id="n1318_130"><circle cx="1318" cy="2006"/></g><g id="n1337_124"><circle cx="1337" cy="1925"/></g><g id="n1355_125"><circle cx="1355" cy="1939"/></g><g id="n1355_126"><circle cx="1355" cy="1952"/></g><g id="n1411_127"><circle cx="1411" cy="1966"/></g>
<g id="n1393_128"><circle cx="1393" cy="1979"/></g><g id="n1393_129"><circle cx="1393" cy="1992"/></g><g id="n1393_130"><circle cx="1393" cy="2006"/></g><g id="n1393_131"><circle cx="1393" cy="2019"/></g><g id="n1393_132"><circle cx="1393" cy="2033"/></g><g id="n1393_133"><circle cx="1393" cy="2046"/></g><g id="n1355_129"><circle cx="1355" cy="1992"/></g><g id="n1355_130"><circle cx="1355" cy="2006"/></g><g id="n1430_128"><circle cx="1430" cy="1979"/></g><g id="n1430_129"><circle cx="1430" cy="1992"/></g><g id="n1430_130"><circle cx="1430" cy="2006"/></g><g id="n1468_130"><circle cx="1468" cy="2006"/></g><g id="n1486_128"><circle cx="1486" cy="1979"/></g><g id="n1496_129"><circle cx="1496" cy="1992"/></g><g id="n1505_130"><circle cx="1505" cy="2006"/></g><g id="n1505_131"><circle cx="1505" cy="2019"/></g>
<g id="n1016_135"><circle cx="1016" cy="2073"/></g><g id="n1016_136"><circle cx="1016" cy="2086"/></g><g id="n1016_137"><circle cx="1016" cy="2100"/></g><g id="n1016_138"><circle cx="1016" cy="2113"/></g><g id="n1016_139"><circle cx="1016" cy="2127"/></g><g id="n1054_138"><circle cx="1054" cy="2113"/></g><g id="n1054_139"><circle cx="1054" cy="2127"/></g><g id="n1072_140"><circle cx="1072" cy="2140"/></g>
<g id="n1035_140"><circle cx="1035" cy="2140"/></g><g id="n1035_141"><circle cx="1035" cy="2154"/></g><g id="n1035_142"><circle cx="1035" cy="2167"/></g><g id="n1035_143"><circle cx="1035" cy="2180"/></g><g id="n1035_144"><circle cx="1035" cy="2194"/></g><g id="n1035_145"><circle cx="1035" cy="2207"/></g><g id="n1035_146"><circle cx="1035" cy="2221"/></g><g id="n1035_147"><circle cx="1035" cy="2234"/></g><g id="n1035_148"><circle cx="1035" cy="2248"/></g>
<g id="n1110_140"><circle cx="1110" cy="2140"/></g><g id="n1110_141"><circle cx="1110" cy="2154"/></g><g id="n1110_142"><circle cx="1110" cy="2167"/></g><g id="n1110_143"><circle cx="1110" cy="2180"/></g><g id="n1110_144"><circle cx="1110" cy="2194"/></g><g id="n1110_145"><circle cx="1110" cy="2207"/></g><g id="n1110_146"><circle cx="1110" cy="2221"/></g><g id="n1110_147"><circle cx="1110" cy="2234"/></g><g id="n1110_148"><circle cx="1110" cy="2248"/></g>
<g id="n1072_145"><circle cx="1072" cy="2207"/></g><g id="n1072_146"><circle cx="1072" cy="2221"/></g><g id="n1072_147"><circle cx="1072" cy="2234"/></g><g id="n1072_148"><circle cx="1072" cy="2248"/></g>
<g id="n1222_146"><circle cx="1222" cy="2221"/></g><g id="n1222_147"><circle cx="1222" cy="2234"/></g><g id="n1185_147"><circle cx="1185" cy="2234"/></g><g id="n1165_148"><circle cx="1165" cy="2248"/></g><g id="n1151_149"><circle cx="1151" cy="2261"/></g><g id="n1212_148"><circle cx="1212" cy="2248"/></g><g id="n1212_149"><circle cx="1212" cy="2261"/></g><g id="n1212_150"><circle cx="1212" cy="2275"/></g><g id="n1212_151"><circle cx="1212" cy="2288"/></g><g id="n1250_148"><circle cx="1250" cy="2248"/></g><g id="n1250_149"><circle cx="1250" cy="2261"/></g><g id="n1250_150"><circle cx="1250" cy="2275"/></g><g id="n1250_151"><circle cx="1250" cy="2288"/></g><g id="n1250_152"><circle cx="1250" cy="2301"/></g>
<g id="n1279_146"><circle cx="1279" cy="2221"/></g><g id="n1283_147"><circle cx="1283" cy="2234"/></g><g id="n1287_148"><circle cx="1287" cy="2248"/></g><g id="n1287_149"><circle cx="1287" cy="2261"/></g><g id="n1287_150"><circle cx="1287" cy="2275"/></g><g id="n1287_151"><circle cx="1287" cy="2288"/></g>
<g id="n1325_146"><circle cx="1325" cy="2221"/></g><g id="n1325_147"><circle cx="1325" cy="2234"/></g><g id="n1325_148"><circle cx="1325" cy="2248"/></g><g id="n1325_149"><circle cx="1325" cy="2261"/></g><g id="n1325_150"><circle cx="1325" cy="2275"/></g><g id="n1325_151"><circle cx="1325" cy="2288"/></g><g id="n1325_152"><circle cx="1325" cy="2301"/></g><g id="n1325_153"><circle cx="1325" cy="2315"/></g><g id="n1325_154"><circle cx="1325" cy="2328"/></g><g id="n1325_155"><circle cx="1325" cy="2342"/></g><g id="n1325_156"><circle cx="1325" cy="2355"/></g>
<g id="n1423_147"><circle cx="1423" cy="2234"/></g><g id="n1405_148"><circle cx="1405" cy="2248"/></g><g id="n1400_149"><circle cx="1400" cy="2261"/></g><g id="n1400_150"><circle cx="1400" cy="2275"/></g><g id="n1400_151"><circle cx="1400" cy="2288"/></g><g id="n1439_149"><circle cx="1439" cy="2261"/></g><g id="n1439_150"><circle cx="1439" cy="2275"/></g><g id="n1439_151"><circle cx="1439" cy="2288"/></g>
<g id="n1362_149"><circle cx="1362" cy="2261"/></g><g id="n1362_150"><circle cx="1362" cy="2275"/></g><g id="n1362_151"><circle cx="1362" cy="2288"/></g><g id="n1362_152"><circle cx="1362" cy="2301"/></g><g id="n1362_153"><circle cx="1362" cy="2315"/></g><g id="n1362_154"><circle cx="1362" cy="2328"/></g><g id="n1462_148"><circle cx="1462" cy="2248"/></g><g id="n1509_148"><circle cx="1509" cy="2248"/></g><g id="n1514_149"><circle cx="1514" cy="2261"/></g>
<g id="n1081_150"><circle cx="1081" cy="2275"/></g><g id="n1062_151"><circle cx="1062" cy="2288"/></g><g id="n1062_152"><circle cx="1062" cy="2301"/></g><g id="n1100_151"><circle cx="1100" cy="2288"/></g><g id="n1100_152"><circle cx="1100" cy="2301"/></g><g id="n1100_153"><circle cx="1100" cy="2315"/></g><g id="n1137_150"><circle cx="1137" cy="2275"/></g><g id="n1137_151"><circle cx="1137" cy="2288"/></g><g id="n1137_152"><circle cx="1137" cy="2301"/></g><g id="n1137_153"><circle cx="1137" cy="2315"/></g>
<g id="n1175_150"><circle cx="1175" cy="2275"/></g><g id="n1175_151"><circle cx="1175" cy="2288"/></g><g id="n1175_152"><circle cx="1175" cy="2301"/></g><g id="n1175_153"><circle cx="1175" cy="2315"/></g><g id="n1175_154"><circle cx="1175" cy="2328"/></g><g id="n1175_155"><circle cx="1175" cy="2342"/></g><g id="n1175_156"><circle cx="1175" cy="2355"/></g><g id="n1175_157"><circle cx="1175" cy="2369"/></g>
<g id="n1477_149"><circle cx="1477" cy="2261"/></g><g id="n1477_150"><circle cx="1477" cy="2275"/></g><g id="n1477_151"><circle cx="1477" cy="2288"/></g><g id="n1514_151"><circle cx="1514" cy="2288"/></g><g id="n1514_152"><circle cx="1514" cy="2301"/></g><g id="n1552_151"><circle cx="1552" cy="2288"/></g><g id="n1495_153"><circle cx="1495" cy="2315"/></g><g id="n1533_153"><circle cx="1533" cy="2315"/></g><g id="n1533_154"><circle cx="1533" cy="2328"/></g>
<g id="n1514_155"><circle cx="1514" cy="2342"/></g><g id="n1514_156"><circle cx="1514" cy="2355"/></g><g id="n1514_157"><circle cx="1514" cy="2369"/></g><g id="n1514_158"><circle cx="1514" cy="2382"/></g><g id="n1514_159"><circle cx="1514" cy="2395"/></g><g id="n1514_160"><circle cx="1514" cy="2409"/></g><g id="n1551_155"><circle cx="1551" cy="2342"/></g><g id="n1551_156"><circle cx="1551" cy="2355"/></g><g id="n1551_157"><circle cx="1551" cy="2369"/></g><g id="n1476_157"><circle cx="1476" cy="2369"/></g><g id="n1476_159"><circle cx="1476" cy="2395"/></g><g id="n1551_159"><circle cx="1551" cy="2395"/></g>
<g id="n1328_37"><circle cx="1328" cy="757"/></g><g id="n1394_38"><circle cx="1394" cy="770"/></g><g id="n1491_39"><circle cx="1491" cy="784"/></g><g id="n1413_40"><circle cx="1413" cy="797"/></g><g id="n1348_41"><circle cx="1348" cy="811"/></g><g id="n1343_42"><circle cx="1343" cy="824"/></g>
<g id="n1339_43"><circle cx="1339" cy="837"/></g><g id="n1339_44"><circle cx="1339" cy="851"/></g><g id="n1339_45"><circle cx="1339" cy="864"/></g><g id="n1339_46"><circle cx="1339" cy="878"/></g><g id="n1339_47"><circle cx="1339" cy="891"/></g><g id="n1339_48"><circle cx="1339" cy="905"/></g><g id="n1339_49"><circle cx="1339" cy="918"/></g><g id="n1339_50"><circle cx="1339" cy="932"/></g>
<g id="n1395_41"><circle cx="1395" cy="811"/></g><g id="n1395_42"><circle cx="1395" cy="824"/></g><g id="n1395_43"><circle cx="1395" cy="837"/></g><g id="n1395_44"><circle cx="1395" cy="851"/></g><g id="n1395_45"><circle cx="1395" cy="864"/></g><g id="n1395_46"><circle cx="1395" cy="878"/></g><g id="n1395_47"><circle cx="1395" cy="891"/></g><g id="n1376_48"><circle cx="1376" cy="905"/></g><g id="n1376_49"><circle cx="1376" cy="918"/></g><g id="n1414_48"><circle cx="1414" cy="905"/></g><g id="n1414_49"><circle cx="1414" cy="918"/></g><g id="n1414_50"><circle cx="1414" cy="932"/></g><g id="n1433_41"><circle cx="1433" cy="811"/></g><g id="n1433_42"><circle cx="1433" cy="824"/></g>
<g id="n1301_44"><circle cx="1301" cy="851"/></g><g id="n1301_45"><circle cx="1301" cy="864"/></g><g id="n1301_46"><circle cx="1301" cy="878"/></g><g id="n1301_47"><circle cx="1301" cy="891"/></g><g id="n1301_48"><circle cx="1301" cy="905"/></g><g id="n1568_40"><circle cx="1568" cy="797"/></g><g id="n1545_41"><circle cx="1545" cy="811"/></g><g id="n1592_41"><circle cx="1592" cy="811"/></g><g id="n1639_41"><circle cx="1639" cy="811"/></g><g id="n1639_42"><circle cx="1639" cy="824"/></g><g id="n1660_40"><circle cx="1660" cy="797"/></g><g id="n1676_42"><circle cx="1676" cy="824"/></g>
<g id="n1714_41"><circle cx="1714" cy="811"/></g><g id="n1714_42"><circle cx="1714" cy="824"/></g><g id="n1714_43"><circle cx="1714" cy="837"/></g><g id="n1714_44"><circle cx="1714" cy="851"/></g><g id="n1714_45"><circle cx="1714" cy="864"/></g><g id="n1714_46"><circle cx="1714" cy="878"/></g><g id="n1751_42"><circle cx="1751" cy="824"/></g><g id="n1751_43"><circle cx="1751" cy="837"/></g><g id="n1751_44"><circle cx="1751" cy="851"/></g><g id="n1751_45"><circle cx="1751" cy="864"/></g><g id="n1751_46"><circle cx="1751" cy="878"/></g><g id="n1798_44"><circle cx="1798" cy="851"/></g><g id="n1818_45"><circle cx="1818" cy="864"/></g><g id="n1827_46"><circle cx="1827" cy="878"/></g><g id="n1827_47"><circle cx="1827" cy="891"/></g><g id="n1827_48"><circle cx="1827" cy="905"/></g><g id="n1789_46"><circle cx="1789" cy="878"/></g><g id="n1676_46"><circle cx="1676" cy="878"/></g><g id="n1676_47"><circle cx="1676" cy="891"/></g><g id="n1676_48"><circle cx="1676" cy="905"/></g>
<g id="n1489_42"><circle cx="1489" cy="824"/></g><g id="n1489_43"><circle cx="1489" cy="837"/></g><g id="n1489_44"><circle cx="1489" cy="851"/></g><g id="n1489_45"><circle cx="1489" cy="864"/></g><g id="n1489_46"><circle cx="1489" cy="878"/></g><g id="n1489_47"><circle cx="1489" cy="891"/></g><g id="n1489_48"><circle cx="1489" cy="905"/></g><g id="n1484_49"><circle cx="1484" cy="918"/></g><g id="n1475_50"><circle cx="1475" cy="932"/></g><g id="n1456_51"><circle cx="1456" cy="945"/></g><g id="n1451_52"><circle cx="1451" cy="958"/></g><g id="n1489_52"><circle cx="1489" cy="958"/></g><g id="n1451_48"><circle cx="1451" cy="905"/></g>
<g id="n1414_52"><circle cx="1414" cy="958"/></g><g id="n1414_53"><circle cx="1414" cy="972"/></g><g id="n1414_54"><circle cx="1414" cy="985"/></g><g id="n1414_55"><circle cx="1414" cy="999"/></g><g id="n1414_56"><circle cx="1414" cy="1012"/></g><g id="n1414_57"><circle cx="1414" cy="1026"/></g><g id="n1526_42"><circle cx="1526" cy="824"/></g><g id="n1526_43"><circle cx="1526" cy="837"/></g><g id="n1526_48"><circle cx="1526" cy="905"/></g><g id="n1526_49"><circle cx="1526" cy="918"/></g><g id="n1526_50"><circle cx="1526" cy="932"/></g><g id="n1526_51"><circle cx="1526" cy="945"/></g><g id="n1526_52"><circle cx="1526" cy="958"/></g><g id="n1526_53"><circle cx="1526" cy="972"/></g>
<g id="n1564_42"><circle cx="1564" cy="824"/></g><g id="n1564_43"><circle cx="1564" cy="837"/></g><g id="n1564_44"><circle cx="1564" cy="851"/></g><g id="n1564_45"><circle cx="1564" cy="864"/></g><g id="n1564_46"><circle cx="1564" cy="878"/></g><g id="n1564_47"><circle cx="1564" cy="891"/></g><g id="n1564_48"><circle cx="1564" cy="905"/></g><g id="n1564_49"><circle cx="1564" cy="918"/></g><g id="n1564_50"><circle cx="1564" cy="932"/></g><g id="n1564_51"><circle cx="1564" cy="945"/></g><g id="n1564_52"><circle cx="1564" cy="958"/></g><g id="n1564_53"><circle cx="1564" cy="972"/></g><g id="n1564_54"><circle cx="1564" cy="985"/></g><g id="n1564_55"><circle cx="1564" cy="999"/></g><g id="n1564_56"><circle cx="1564" cy="1012"/></g>
<g id="n1601_42"><circle cx="1601" cy="824"/></g><g id="n1601_43"><circle cx="1601" cy="837"/></g><g id="n1601_44"><circle cx="1601" cy="851"/></g><g id="n1620_45"><circle cx="1620" cy="864"/></g><g id="n1629_46"><circle cx="1629" cy="878"/></g><g id="n1639_47"><circle cx="1639" cy="891"/></g><g id="n1639_48"><circle cx="1639" cy="905"/></g><g id="n1601_47"><circle cx="1601" cy="891"/></g><g id="n1601_48"><circle cx="1601" cy="905"/></g><g id="n1601_49"><circle cx="1601" cy="918"/></g><g id="n1601_50"><circle cx="1601" cy="932"/></g><g id="n1601_51"><circle cx="1601" cy="945"/></g><g id="n1620_52"><circle cx="1620" cy="958"/></g><g id="n1620_53"><circle cx="1620" cy="972"/></g><g id="n1620_54"><circle cx="1620" cy="985"/></g><g id="n1658_53"><circle cx="1658" cy="972"/></g><g id="n1658_54"><circle cx="1658" cy="985"/></g><g id="n1507_54"><circle cx="1507" cy="985"/></g>
<g id="n1489_55"><circle cx="1489" cy="999"/></g><g id="n1489_56"><circle cx="1489" cy="1012"/></g><g id="n1489_57"><circle cx="1489" cy="1026"/></g><g id="n1489_58"><circle cx="1489" cy="1039"/></g><g id="n1526_55"><circle cx="1526" cy="999"/></g><g id="n1526_56"><circle cx="1526" cy="1012"/></g><g id="n1526_57"><circle cx="1526" cy="1026"/></g><g id="n1526_58"><circle cx="1526" cy="1039"/></g><g id="n1526_59"><circle cx="1526" cy="1052"/></g><g id="n1526_60"><circle cx="1526" cy="1066"/></g><g id="n1601_55"><circle cx="1601" cy="999"/></g><g id="n1601_56"><circle cx="1601" cy="1012"/></g><g id="n1601_57"><circle cx="1601" cy="1026"/></g><g id="n1601_58"><circle cx="1601" cy="1039"/></g>
<g id="n1639_55"><circle cx="1639" cy="999"/></g><g id="n1639_56"><circle cx="1639" cy="1012"/></g><g id="n1639_57"><circle cx="1639" cy="1026"/></g><g id="n1639_58"><circle cx="1639" cy="1039"/></g><g id="n1639_59"><circle cx="1639" cy="1052"/></g><g id="n1639_60"><circle cx="1639" cy="1066"/></g><g id="n1639_61"><circle cx="1639" cy="1079"/></g><g id="n1639_62"><circle cx="1639" cy="1093"/></g><g id="n1639_63"><circle cx="1639" cy="1106"/></g><g id="n1639_64"><circle cx="1639" cy="1120"/></g><g id="n1639_65"><circle cx="1639" cy="1133"/></g><g id="n1639_66"><circle cx="1639" cy="1146"/></g><g id="n1639_67"><circle cx="1639" cy="1160"/></g>
<g id="n449_119"><circle cx="449" cy="1858"/></g><g id="n449_120"><circle cx="449" cy="1872"/></g><g id="n449_121"><circle cx="449" cy="1885"/></g><g id="n449_122"><circle cx="449" cy="1898"/></g><g id="n449_123"><circle cx="449" cy="1912"/></g><g id="n449_124"><circle cx="449" cy="1925"/></g><g id="n449_125"><circle cx="449" cy="1939"/></g><g id="n449_126"><circle cx="449" cy="1952"/></g><g id="n449_127"><circle cx="449" cy="1966"/></g><g id="n449_128"><circle cx="449" cy="1979"/></g><g id="n449_129"><circle cx="449" cy="1992"/></g>
<g id="n511_118"><circle cx="511" cy="1845"/></g><g id="n492_119"><circle cx="492" cy="1858"/></g><g id="n530_119"><circle cx="530" cy="1858"/></g><g id="n537_120"><circle cx="537" cy="1872"/></g><g id="n537_121"><circle cx="537" cy="1885"/></g><g id="n537_122"><circle cx="537" cy="1898"/></g><g id="n499_120"><circle cx="499" cy="1872"/></g><g id="n596_123"><circle cx="596" cy="1912"/></g><g id="n660_124"><circle cx="660" cy="1925"/></g>
<g id="n689_125"><circle cx="689" cy="1939"/></g><g id="n689_126"><circle cx="689" cy="1952"/></g><g id="n689_127"><circle cx="689" cy="1966"/></g><g id="n689_128"><circle cx="689" cy="1979"/></g><g id="n689_129"><circle cx="689" cy="1992"/></g><g id="n686_130"><circle cx="686" cy="2006"/></g><g id="n681_131"><circle cx="681" cy="2019"/></g><g id="n704_132"><circle cx="704" cy="2033"/></g><g id="n704_133"><circle cx="704" cy="2046"/></g>
<g id="n354_121"><circle cx="354" cy="1885"/></g><g id="n230_122"><circle cx="230" cy="1898"/></g><g id="n174_123"><circle cx="174" cy="1912"/></g><g id="n174_124"><circle cx="174" cy="1925"/></g><g id="n174_125"><circle cx="174" cy="1939"/></g><g id="n211_123"><circle cx="211" cy="1912"/></g><g id="n211_124"><circle cx="211" cy="1925"/></g><g id="n211_125"><circle cx="211" cy="1939"/></g><g id="n249_123"><circle cx="249" cy="1912"/></g><g id="n249_124"><circle cx="249" cy="1925"/></g><g id="n249_125"><circle cx="249" cy="1939"/></g><g id="n286_125"><circle cx="286" cy="1939"/></g>
<g id="n192_126"><circle cx="192" cy="1952"/></g><g id="n192_127"><circle cx="192" cy="1966"/></g><g id="n192_128"><circle cx="192" cy="1979"/></g><g id="n192_129"><circle cx="192" cy="1992"/></g><g id="n192_130"><circle cx="192" cy="2006"/></g><g id="n230_126"><circle cx="230" cy="1952"/></g><g id="n230_127"><circle cx="230" cy="1966"/></g><g id="n230_128"><circle cx="230" cy="1979"/></g><g id="n230_129"><circle cx="230" cy="1992"/></g><g id="n230_130"><circle cx="230" cy="2006"/></g><g id="n267_126"><circle cx="267" cy="1952"/></g><g id="n267_127"><circle cx="267" cy="1966"/></g><g id="n267_128"><circle cx="267" cy="1979"/></g><g id="n267_129"><circle cx="267" cy="1992"/></g><g id="n267_130"><circle cx="267" cy="2006"/></g><g id="n211_131"><circle cx="211" cy="2019"/></g><g id="n211_132"><circle cx="211" cy="2033"/></g><g id="n211_133"><circle cx="211" cy="2046"/></g><g id="n248_131"><circle cx="248" cy="2019"/></g><g id="n286_131"><circle cx="286" cy="2019"/></g>
<g id="n485_128"><circle cx="485" cy="1979"/></g><g id="n409_128"><circle cx="409" cy="1979"/></g><g id="n399_129"><circle cx="399" cy="1992"/></g><g id="n399_130"><circle cx="399" cy="2006"/></g><g id="n399_131"><circle cx="399" cy="2019"/></g><g id="n399_132"><circle cx="399" cy="2033"/></g><g id="n399_133"><circle cx="399" cy="2046"/></g><g id="n361_130"><circle cx="361" cy="2006"/></g><g id="n361_131"><circle cx="361" cy="2019"/></g><g id="n361_132"><circle cx="361" cy="2033"/></g><g id="n361_133"><circle cx="361" cy="2046"/></g><g id="n323_131"><circle cx="323" cy="2019"/></g><g id="n323_132"><circle cx="323" cy="2033"/></g><g id="n380_134"><circle cx="380" cy="2060"/></g><g id="n380_135"><circle cx="380" cy="2073"/></g><g id="n380_136"><circle cx="380" cy="2086"/></g><g id="n417_134"><circle cx="417" cy="2060"/></g>
<g id="n455_130"><circle cx="455" cy="2006"/></g><g id="n436_131"><circle cx="436" cy="2019"/></g><g id="n436_132"><circle cx="436" cy="2033"/></g><g id="n473_131"><circle cx="473" cy="2019"/></g><g id="n473_132"><circle cx="473" cy="2033"/></g><g id="n473_133"><circle cx="473" cy="2046"/></g><g id="n473_134"><circle cx="473" cy="2060"/></g><g id="n473_135"><circle cx="473" cy="2073"/></g><g id="n473_136"><circle cx="473" cy="2086"/></g><g id="n511_131"><circle cx="511" cy="2019"/></g><g id="n511_132"><circle cx="511" cy="2033"/></g><g id="n511_133"><circle cx="511" cy="2046"/></g><g id="n522_134"><circle cx="522" cy="2060"/></g><g id="n522_135"><circle cx="522" cy="2073"/></g><g id="n548_133"><circle cx="548" cy="2046"/></g><g id="n586_132"><circle cx="586" cy="2033"/></g><g id="n586_133"><circle cx="586" cy="2046"/></g><g id="n560_134"><circle cx="560" cy="2060"/></g><g id="n597_134"><circle cx="597" cy="2060"/></g><g id="n645_133"><circle cx="645" cy="2046"/></g><g id="n664_132"><circle cx="664" cy="2033"/></g><g id="n672_134"><circle cx="672" cy="2060"/></g>
<g id="n635_134"><circle cx="635" cy="2060"/></g><g id="n635_135"><circle cx="635" cy="2073"/></g><g id="n635_136"><circle cx="635" cy="2086"/></g><g id="n635_137"><circle cx="635" cy="2100"/></g><g id="n616_138"><circle cx="616" cy="2113"/></g><g id="n616_139"><circle cx="616" cy="2127"/></g><g id="n616_140"><circle cx="616" cy="2140"/></g><g id="n616_141"><circle cx="616" cy="2154"/></g><g id="n616_142"><circle cx="616" cy="2167"/></g>
<g id="n597_143"><circle cx="597" cy="2180"/></g><g id="n597_144"><circle cx="597" cy="2194"/></g><g id="n597_145"><circle cx="597" cy="2207"/></g><g id="n597_146"><circle cx="597" cy="2221"/></g><g id="n597_147"><circle cx="597" cy="2234"/></g><g id="n597_148"><circle cx="597" cy="2248"/></g><g id="n597_149"><circle cx="597" cy="2261"/></g><g id="n597_150"><circle cx="597" cy="2275"/></g><g id="n597_151"><circle cx="597" cy="2288"/></g><g id="n597_152"><circle cx="597" cy="2301"/></g><g id="n597_153"><circle cx="597" cy="2315"/></g>
<g id="n560_144"><circle cx="560" cy="2194"/></g><g id="n560_145"><circle cx="560" cy="2207"/></g><g id="n522_145"><circle cx="522" cy="2207"/></g><g id="n522_146"><circle cx="522" cy="2221"/></g><g id="n522_147"><circle cx="522" cy="2234"/></g><g id="n522_148"><circle cx="522" cy="2248"/></g><g id="n635_144"><circle cx="635" cy="2194"/></g>
<g id="n672_138"><circle cx="672" cy="2113"/></g><g id="n672_139"><circle cx="672" cy="2127"/></g><g id="n672_140"><circle cx="672" cy="2140"/></g><g id="n672_141"><circle cx="672" cy="2154"/></g><g id="n672_142"><circle cx="672" cy="2167"/></g><g id="n672_143"><circle cx="672" cy="2180"/></g><g id="n672_144"><circle cx="672" cy="2194"/></g><g id="n672_145"><circle cx="672" cy="2207"/></g><g id="n672_146"><circle cx="672" cy="2221"/></g><g id="n672_147"><circle cx="672" cy="2234"/></g><g id="n672_148"><circle cx="672" cy="2248"/></g><g id="n672_149"><circle cx="672" cy="2261"/></g>
<g id="n710_134"><circle cx="710" cy="2060"/></g><g id="n710_135"><circle cx="710" cy="2073"/></g><g id="n710_136"><circle cx="710" cy="2086"/></g><g id="n710_137"><circle cx="710" cy="2100"/></g><g id="n710_138"><circle cx="710" cy="2113"/></g><g id="n710_139"><circle cx="710" cy="2127"/></g><g id="n710_140"><circle cx="710" cy="2140"/></g><g id="n710_141"><circle cx="710" cy="2154"/></g><g id="n710_142"><circle cx="710" cy="2167"/></g><g id="n710_143"><circle cx="710" cy="2180"/></g><g id="n710_144"><circle cx="710" cy="2194"/></g><g id="n710_145"><circle cx="710" cy="2207"/></g><g id="n710_146"><circle cx="710" cy="2221"/></g><g id="n710_147"><circle cx="710" cy="2234"/></g><g id="n710_148"><circle cx="710" cy="2248"/></g>
<g id="n754_126"><circle cx="754" cy="1952"/></g><g id="n782_127"><circle cx="782" cy="1966"/></g><g id="n802_128"><circle cx="802" cy="1979"/></g><g id="n803_129"><circle cx="803" cy="1992"/></g><g id="n728_130"><circle cx="728" cy="2006"/></g><g id="n733_131"><circle cx="733" cy="2019"/></g><g id="n744_132"><circle cx="744" cy="2033"/></g><g id="n747_133"><circle cx="747" cy="2046"/></g><g id="n747_134"><circle cx="747" cy="2060"/></g><g id="n747_135"><circle cx="747" cy="2073"/></g>
<g id="n785_130"><circle cx="785" cy="2006"/></g><g id="n785_131"><circle cx="785" cy="2019"/></g><g id="n785_132"><circle cx="785" cy="2033"/></g><g id="n785_133"><circle cx="785" cy="2046"/></g><g id="n785_134"><circle cx="785" cy="2060"/></g><g id="n785_135"><circle cx="785" cy="2073"/></g><g id="n785_136"><circle cx="785" cy="2086"/></g><g id="n785_137"><circle cx="785" cy="2100"/></g><g id="n785_138"><circle cx="785" cy="2113"/></g><g id="n785_139"><circle cx="785" cy="2127"/></g><g id="n785_140"><circle cx="785" cy="2140"/></g><g id="n785_141"><circle cx="785" cy="2154"/></g><g id="n785_142"><circle cx="785" cy="2167"/></g><g id="n785_144"><circle cx="785" cy="2194"/></g>
<g id="n822_130"><circle cx="822" cy="2006"/></g><g id="n822_131"><circle cx="822" cy="2019"/></g><g id="n822_134"><circle cx="822" cy="2060"/></g>
<g id="n860_130"><circle cx="860" cy="2006"/></g><g id="n860_131"><circle cx="860" cy="2019"/></g><g id="n860_132"><circle cx="860" cy="2033"/></g><g id="n860_133"><circle cx="860" cy="2046"/></g><g id="n860_134"><circle cx="860" cy="2060"/></g><g id="n860_135"><circle cx="860" cy="2073"/></g><g id="n860_136"><circle cx="860" cy="2086"/></g><g id="n860_137"><circle cx="860" cy="2100"/></g><g id="n860_138"><circle cx="860" cy="2113"/></g><g id="n860_139"><circle cx="860" cy="2127"/></g><g id="n860_140"><circle cx="860" cy="2140"/></g>
<g id="n897_133"><circle cx="897" cy="2046"/></g><g id="n897_134"><circle cx="897" cy="2060"/></g><g id="n897_135"><circle cx="897" cy="2073"/></g><g id="n897_136"><circle cx="897" cy="2086"/></g>
<g id="n942_133"><circle cx="942" cy="2046"/></g><g id="n942_134"><circle cx="942" cy="2060"/></g><g id="n942_135"><circle cx="942" cy="2073"/></g><g id="n942_136"><circle cx="942" cy="2086"/></g><g id="n942_137"><circle cx="942" cy="2100"/></g><g id="n942_138"><circle cx="942" cy="2113"/></g><g id="n942_139"><circle cx="942" cy="2127"/></g>
<g id="n978_133"><circle cx="978" cy="2046"/></g><g id="n978_134"><circle cx="978" cy="2060"/></g><g id="n978_135"><circle cx="978" cy="2073"/></g><g id="n997_132"><circle cx="997" cy="2033"/></g><g id="n1005_128"><circle cx="1005" cy="1979"/></g><g id="n1005_129"><circle cx="1005" cy="1992"/></g><g id="n1005_130"><circle cx="1005" cy="2006"/></g><g id="n1005_131"><circle cx="1005" cy="2019"/></g>
<g id="n747_137"><circle cx="747" cy="2100"/></g><g id="n747_138"><circle cx="747" cy="2113"/></g><g id="n747_139"><circle cx="747" cy="2127"/></g><g id="n747_140"><circle cx="747" cy="2140"/></g><g id="n822_137"><circle cx="822" cy="2100"/></g><g id="n822_138"><circle cx="822" cy="2113"/></g><g id="n822_139"><circle cx="822" cy="2127"/></g><g id="n822_140"><circle cx="822" cy="2140"/></g><g id="n841_141"><circle cx="841" cy="2154"/></g><g id="n860_142"><circle cx="860" cy="2167"/></g>
<g id="n822_142"><circle cx="822" cy="2167"/></g><g id="n822_143"><circle cx="822" cy="2180"/></g><g id="n822_144"><circle cx="822" cy="2194"/></g><g id="n841_145"><circle cx="841" cy="2207"/></g><g id="n805_145"><circle cx="805" cy="2207"/></g>
<g id="n785_146"><circle cx="785" cy="2221"/></g><g id="n785_147"><circle cx="785" cy="2234"/></g><g id="n785_148"><circle cx="785" cy="2248"/></g><g id="n785_149"><circle cx="785" cy="2261"/></g><g id="n785_150"><circle cx="785" cy="2275"/></g><g id="n785_151"><circle cx="785" cy="2288"/></g><g id="n747_147"><circle cx="747" cy="2234"/></g><g id="n747_148"><circle cx="747" cy="2248"/></g><g id="n833_146"><circle cx="833" cy="2221"/></g><g id="n833_147"><circle cx="833" cy="2234"/></g><g id="n879_147"><circle cx="879" cy="2234"/></g><g id="n898_148"><circle cx="898" cy="2248"/></g>
<g id="n822_148"><circle cx="822" cy="2248"/></g><g id="n822_149"><circle cx="822" cy="2261"/></g><g id="n822_150"><circle cx="822" cy="2275"/></g><g id="n860_148"><circle cx="860" cy="2248"/></g><g id="n860_149"><circle cx="860" cy="2261"/></g><g id="n860_150"><circle cx="860" cy="2275"/></g>
<g id="n747_142"><circle cx="747" cy="2167"/></g><g id="n747_143"><circle cx="747" cy="2180"/></g><g id="n747_144"><circle cx="747" cy="2194"/></g><g id="n747_145"><circle cx="747" cy="2207"/></g>
<g id="n960_140"><circle cx="960" cy="2140"/></g><g id="n960_141"><circle cx="960" cy="2154"/></g><g id="n960_142"><circle cx="960" cy="2167"/></g><g id="n960_143"><circle cx="960" cy="2180"/></g><g id="n979_139"><circle cx="979" cy="2127"/></g><g id="n997_140"><circle cx="997" cy="2140"/></g><g id="n997_141"><circle cx="997" cy="2154"/></g><g id="n997_142"><circle cx="997" cy="2167"/></g><g id="n997_145"><circle cx="997" cy="2207"/></g><g id="n997_146"><circle cx="997" cy="2221"/></g><g id="n997_147"><circle cx="997" cy="2234"/></g><g id="n997_148"><circle cx="997" cy="2248"/></g>
<g id="n1020_149"><circle cx="1020" cy="2261"/></g><g id="n1006_150"><circle cx="1006" cy="2275"/></g><g id="n987_151"><circle cx="987" cy="2288"/></g><g id="n987_152"><circle cx="987" cy="2301"/></g><g id="n1025_151"><circle cx="1025" cy="2288"/></g><g id="n1025_152"><circle cx="1025" cy="2301"/></g><g id="n931_151"><circle cx="931" cy="2288"/></g><g id="n912_152"><circle cx="912" cy="2301"/></g><g id="n950_152"><circle cx="950" cy="2301"/></g><g id="n1006_153"><circle cx="1006" cy="2315"/></g><g id="n875_153"><circle cx="875" cy="2315"/></g><g id="n820_154"><circle cx="820" cy="2328"/></g><g id="n856_154"><circle cx="856" cy="2328"/></g><g id="n894_154"><circle cx="894" cy="2328"/></g>
<g id="n931_153"><circle cx="931" cy="2315"/></g><g id="n931_154"><circle cx="931" cy="2328"/></g><g id="n931_155"><circle cx="931" cy="2342"/></g><g id="n970_153"><circle cx="970" cy="2315"/></g><g id="n970_154"><circle cx="970" cy="2328"/></g><g id="n970_155"><circle cx="970" cy="2342"/></g><g id="n970_156"><circle cx="970" cy="2355"/></g><g id="n970_157"><circle cx="970" cy="2369"/></g><g id="n970_158"><circle cx="970" cy="2382"/></g>
<g id="n950_159"><circle cx="950" cy="2395"/></g><g id="n988_159"><circle cx="988" cy="2395"/></g><g id="n988_160"><circle cx="988" cy="2409"/></g><g id="n988_161"><circle cx="988" cy="2422"/></g><g id="n988_162"><circle cx="988" cy="2436"/></g><g id="n988_163"><circle cx="988" cy="2449"/></g><g id="n988_164"><circle cx="988" cy="2463"/></g><g id="n1025_162"><circle cx="1026" cy="2436"/></g><g id="n1025_163"><circle cx="1026" cy="2449"/></g><g id="n1025_164"><circle cx="1026" cy="2463"/></g><g id="n1025_165"><circle cx="1026" cy="2476"/></g>
<g id="n950_162"><circle cx="950" cy="2436"/></g><g id="n950_163"><circle cx="950" cy="2449"/></g><g id="n950_164"><circle cx="950" cy="2463"/></g><g id="n950_165"><circle cx="950" cy="2476"/></g><g id="n950_166"><circle cx="950" cy="2489"/></g><g id="n913_163"><circle cx="913" cy="2449"/></g>
<g id="n932_167"><circle cx="932" cy="2503"/></g><g id="n932_168"><circle cx="932" cy="2516"/></g><g id="n932_169"><circle cx="932" cy="2530"/></g><g id="n932_170"><circle cx="932" cy="2543"/></g><g id="n970_167"><circle cx="970" cy="2503"/></g><g id="n970_168"><circle cx="970" cy="2516"/></g><g id="n970_169"><circle cx="970" cy="2530"/></g><g id="n970_170"><circle cx="970" cy="2543"/></g><g id="n970_171"><circle cx="970" cy="2557"/></g><g id="n970_172"><circle cx="970" cy="2570"/></g>
<g id="n952_173"><circle cx="952" cy="2583"/></g><g id="n942_174"><circle cx="942" cy="2597"/></g><g id="n994_173"><circle cx="994" cy="2583"/></g><g id="n994_174"><circle cx="994" cy="2597"/></g><g id="n1035_174"><circle cx="1035" cy="2597"/></g>
<g id="n1037_175"><circle cx="1037" cy="2610"/></g><g id="n1037_176"><circle cx="1037" cy="2624"/></g><g id="n1037_177"><circle cx="1037" cy="2637"/></g><g id="n1037_178"><circle cx="1037" cy="2651"/></g><g id="n1037_179"><circle cx="1037" cy="2664"/></g><g id="n1037_180"><circle cx="1037" cy="2677"/></g><g id="n1037_181"><circle cx="1037" cy="2691"/></g><g id="n1037_182"><circle cx="1037" cy="2704"/></g>
<g id="n999_175"><circle cx="999" cy="2610"/></g><g id="n999_176"><circle cx="999" cy="2624"/></g><g id="n999_177"><circle cx="999" cy="2637"/></g><g id="n961_175"><circle cx="961" cy="2610"/></g>
<g id="n924_175"><circle cx="924" cy="2610"/></g><g id="n924_176"><circle cx="924" cy="2624"/></g><g id="n924_177"><circle cx="924" cy="2637"/></g><g id="n924_178"><circle cx="924" cy="2651"/></g><g id="n924_179"><circle cx="924" cy="2664"/></g><g id="n924_180"><circle cx="924" cy="2677"/></g><g id="n924_181"><circle cx="924" cy="2691"/></g>
<g id="n886_180"><circle cx="886" cy="2677"/></g><g id="n886_181"><circle cx="886" cy="2691"/></g><g id="n886_182"><circle cx="886" cy="2704"/></g><g id="n886_183"><circle cx="886" cy="2718"/></g><g id="n886_184"><circle cx="886" cy="2731"/></g><g id="n886_185"><circle cx="886" cy="2745"/></g><g id="n849_181"><circle cx="849" cy="2691"/></g>
<g id="n961_180"><circle cx="961" cy="2677"/></g><g id="n961_181"><circle cx="961" cy="2691"/></g><g id="n961_182"><circle cx="961" cy="2704"/></g><g id="n961_183"><circle cx="961" cy="2718"/></g><g id="n999_180"><circle cx="999" cy="2677"/></g><g id="n999_181"><circle cx="999" cy="2691"/></g><g id="n1075_180"><circle cx="1075" cy="2677"/></g><g id="n1075_181"><circle cx="1075" cy="2691"/></g>
</g>
</svg>
